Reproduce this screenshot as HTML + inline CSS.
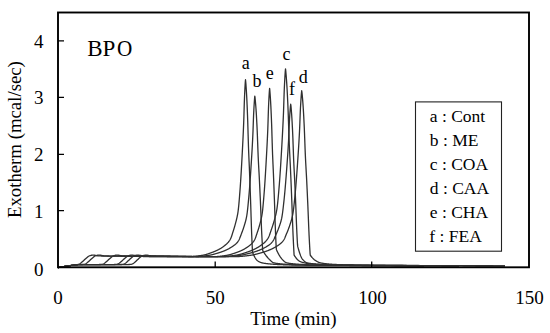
<!DOCTYPE html>
<html><head><meta charset="utf-8">
<style>
html,body{margin:0;padding:0;background:#fff;}
body{width:550px;height:333px;overflow:hidden;}
svg{display:block;}
text{font-family:"Liberation Serif",serif;fill:#000;}
</style></head>
<body>
<svg width="550" height="333" viewBox="0 0 550 333">
<rect x="0" y="0" width="550" height="333" fill="#fff"/>
<g fill="none" stroke="#303030" stroke-width="1.3" stroke-linejoin="round">
<path d="M58.00 267.60L58.60 267.49L59.20 267.38L59.80 267.27L60.40 267.16L61.00 267.06L61.60 266.95L62.20 266.84L62.80 266.74L63.40 266.64L64.00 266.53L64.60 266.43L65.20 266.33L65.80 266.24L66.40 266.14L67.00 266.05L67.60 265.96L68.20 265.87L68.80 265.78L69.40 265.70L70.00 265.61L70.60 265.53L71.20 265.45L71.80 265.37L72.40 265.30L73.00 265.22L73.60 265.15L74.20 265.07L74.80 265.00L75.40 264.92L76.00 264.84L76.60 264.75L77.20 264.64L77.80 264.51L78.40 264.33L79.00 264.08L79.60 263.83L80.20 263.48L80.80 263.06L81.40 262.59L82.00 262.07L82.60 261.53L83.20 260.97L83.80 260.41L84.40 259.85L85.00 259.28L85.60 258.72L86.20 258.17L86.80 257.64L87.40 257.14L88.00 256.69L88.60 256.30L89.20 255.98L89.80 255.73L90.40 255.53L91.00 255.38L91.60 255.26L92.20 255.18L92.80 255.14L93.40 255.14L94.00 255.18L94.60 255.25L95.20 255.35L95.80 255.45L96.40 255.56L97.00 255.66L97.60 255.75L98.20 255.82L98.80 255.88L99.40 255.92L100.00 255.95L100.60 255.97L101.20 255.99L101.80 256.00L102.40 256.01L103.00 256.02L103.60 256.03L104.20 256.04L104.80 256.04L105.40 256.05L106.00 256.06L106.60 256.06L107.20 256.07L107.80 256.08L108.40 256.08L109.00 256.09L109.60 256.10L110.20 256.10L110.80 256.11L111.40 256.12L112.00 256.12L112.60 256.13L113.20 256.14L113.80 256.14L114.40 256.15L115.00 256.16L115.60 256.16L116.20 256.17L116.80 256.18L117.40 256.19L118.00 256.19L118.60 256.20L119.20 256.21L119.80 256.21L120.40 256.22L121.00 256.23L121.60 256.23L122.20 256.24L122.80 256.25L123.40 256.25L124.00 256.26L124.60 256.27L125.20 256.27L125.80 256.28L126.40 256.29L127.00 256.29L127.60 256.30L128.20 256.31L128.80 256.31L129.40 256.32L130.00 256.33L130.60 256.33L131.20 256.34L131.80 256.35L132.40 256.36L133.00 256.36L133.60 256.37L134.20 256.38L134.80 256.38L135.40 256.39L136.00 256.40L136.60 256.40L137.20 256.41L137.80 256.42L138.40 256.42L139.00 256.43L139.60 256.44L140.20 256.44L140.80 256.45L141.40 256.46L142.00 256.46L142.60 256.47L143.20 256.48L143.80 256.48L144.40 256.49L145.00 256.50L145.60 256.50L146.20 256.51L146.80 256.52L147.40 256.53L148.00 256.53L148.60 256.54L149.20 256.55L149.80 256.55L150.40 256.56L151.00 256.57L151.60 256.57L152.20 256.58L152.80 256.59L153.40 256.59L154.00 256.60L154.60 256.60L155.20 256.60L155.80 256.60L156.40 256.60L157.00 256.60L157.60 256.60L158.20 256.60L158.80 256.60L159.40 256.60L160.00 256.60L160.60 256.60L161.20 256.60L161.80 256.60L162.40 256.60L163.00 256.60L163.60 256.60L164.20 256.60L164.80 256.60L165.40 256.60L166.00 256.60L166.60 256.60L167.20 256.60L167.80 256.60L168.40 256.60L169.00 256.60L169.60 256.60L170.20 256.60L170.80 256.60L171.40 256.60L172.00 256.60L172.60 256.60L173.20 256.60L173.80 256.60L174.40 256.60L175.00 256.60L175.50 256.60L175.70 256.60L175.90 256.60L176.10 256.60L176.30 256.60L176.50 256.60L176.70 256.60L176.90 256.60L177.10 256.60L177.30 256.60L177.50 256.60L177.70 256.60L177.90 256.60L178.10 256.60L178.30 256.60L178.50 256.60L178.70 256.60L178.90 256.60L179.10 256.60L179.30 256.60L179.50 256.60L179.70 256.60L179.90 256.60L180.10 256.60L180.30 256.60L180.50 256.60L180.70 256.60L180.90 256.60L181.10 256.60L181.30 256.60L181.50 256.60L181.70 256.60L181.90 256.60L182.10 256.60L182.30 256.60L182.50 256.60L182.70 256.60L182.90 256.60L183.10 256.60L183.30 256.60L183.50 256.60L183.70 256.60L183.90 256.60L184.10 256.60L184.30 256.60L184.50 256.60L184.70 256.60L184.90 256.60L185.10 256.60L185.30 256.60L185.50 256.60L185.70 256.60L185.90 256.60L186.10 256.60L186.30 256.60L186.50 256.60L186.70 256.60L186.90 256.60L187.10 256.60L187.30 256.60L187.50 256.60L187.70 256.60L187.90 256.60L188.10 256.60L188.30 256.60L188.50 256.60L188.70 256.60L188.90 256.60L189.10 256.60L189.30 256.60L189.50 256.60L189.70 256.60L189.90 256.60L190.10 256.60L190.30 256.60L190.50 256.60L190.70 256.60L190.90 256.60L191.10 256.59L191.30 256.59L191.50 256.59L191.70 256.58L191.90 256.57L192.10 256.57L192.30 256.56L192.50 256.55L192.70 256.54L192.90 256.53L193.10 256.51L193.30 256.50L193.50 256.49L193.70 256.47L193.90 256.46L194.10 256.44L194.30 256.42L194.50 256.40L194.70 256.39L194.90 256.37L195.10 256.35L195.30 256.33L195.50 256.30L195.70 256.28L195.90 256.26L196.10 256.24L196.30 256.21L196.50 256.19L196.70 256.16L196.90 256.14L197.10 256.11L197.30 256.08L197.50 256.06L197.70 256.03L197.90 256.00L198.10 255.97L198.30 255.94L198.50 255.91L198.70 255.89L198.90 255.86L199.10 255.82L199.30 255.79L199.50 255.76L199.70 255.73L199.90 255.70L200.10 255.67L200.30 255.64L200.50 255.60L200.70 255.57L200.90 255.54L201.10 255.50L201.30 255.47L201.50 255.44L201.70 255.40L201.90 255.37L202.10 255.34L202.30 255.30L202.50 255.27L202.70 255.24L202.90 255.20L203.10 255.17L203.30 255.13L203.50 255.09L203.70 255.06L203.90 255.01L204.10 254.97L204.30 254.93L204.50 254.88L204.70 254.83L204.90 254.78L205.10 254.73L205.30 254.68L205.50 254.62L205.70 254.57L205.90 254.51L206.10 254.46L206.30 254.40L206.50 254.34L206.70 254.28L206.90 254.21L207.10 254.15L207.30 254.09L207.50 254.02L207.70 253.96L207.90 253.89L208.10 253.82L208.30 253.76L208.50 253.69L208.70 253.62L208.90 253.55L209.10 253.48L209.30 253.41L209.50 253.34L209.70 253.27L209.90 253.20L210.10 253.12L210.30 253.05L210.50 252.98L210.70 252.91L210.90 252.84L211.10 252.76L211.30 252.69L211.50 252.62L211.70 252.55L211.90 252.48L212.10 252.40L212.30 252.33L212.50 252.26L212.70 252.18L212.90 252.10L213.10 252.03L213.30 251.95L213.50 251.87L213.70 251.79L213.90 251.72L214.10 251.63L214.30 251.55L214.50 251.47L214.70 251.39L214.90 251.31L215.10 251.22L215.30 251.13L215.50 251.05L215.70 250.96L215.90 250.87L216.10 250.78L216.30 250.69L216.50 250.60L216.70 250.51L216.90 250.41L217.10 250.32L217.30 250.22L217.50 250.12L217.70 250.02L217.90 249.92L218.10 249.82L218.30 249.72L218.50 249.62L218.70 249.51L218.90 249.40L219.10 249.29L219.30 249.18L219.50 249.07L219.70 248.96L219.90 248.84L220.10 248.73L220.30 248.61L220.50 248.49L220.70 248.37L220.90 248.24L221.10 248.12L221.30 247.99L221.50 247.86L221.70 247.73L221.90 247.60L222.10 247.46L222.30 247.33L222.50 247.19L222.70 247.05L222.90 246.90L223.10 246.76L223.30 246.62L223.50 246.47L223.70 246.32L223.90 246.17L224.10 246.01L224.30 245.86L224.50 245.70L224.70 245.54L224.90 245.38L225.10 245.22L225.30 245.05L225.50 244.89L225.70 244.72L225.90 244.55L226.10 244.38L226.30 244.20L226.50 244.03L226.70 243.85L226.90 243.66L227.10 243.48L227.30 243.28L227.50 243.08L227.70 242.88L227.90 242.67L228.10 242.44L228.30 242.22L228.50 241.98L228.70 241.73L228.90 241.47L229.10 241.20L229.30 240.92L229.50 240.62L229.70 240.31L229.90 239.98L230.10 239.64L230.30 239.28L230.50 238.90L230.70 238.49L230.90 238.07L231.10 237.62L231.30 237.12L231.50 236.56L231.70 235.96L231.90 235.33L232.10 234.69L232.30 234.04L232.50 233.39L232.70 232.76L232.90 232.14L233.10 231.51L233.30 230.89L233.50 230.26L233.70 229.62L233.90 228.99L234.10 228.34L234.30 227.68L234.50 227.02L234.70 226.34L234.90 225.64L235.10 224.93L235.30 224.20L235.50 223.45L235.70 222.68L235.90 221.89L236.10 221.11L236.30 220.32L236.50 219.52L236.70 218.70L236.90 217.84L237.10 216.93L237.30 215.96L237.50 214.93L237.70 213.80L237.90 212.59L238.10 211.25L238.30 209.70L238.50 207.92L238.70 205.96L238.90 203.84L239.10 201.57L239.30 199.19L239.50 196.71L239.70 194.17L239.90 191.58L240.10 188.95L240.30 186.19L240.50 183.28L240.70 180.23L240.90 177.05L241.10 173.77L241.30 170.37L241.50 166.88L241.70 163.31L241.90 159.67L242.10 155.96L242.30 152.20L242.50 148.40L242.70 144.53L242.90 140.54L243.10 136.38L243.30 132.00L243.50 127.35L243.70 122.36L243.90 116.42L244.10 109.59L244.30 102.92L244.50 97.43L244.70 92.99L244.90 88.90L245.10 85.24L245.30 82.15L245.50 79.74L245.70 81.47L245.90 83.92L246.10 86.68L246.30 89.72L246.50 92.99L246.70 96.57L246.90 100.61L247.10 105.06L247.30 109.85L247.50 114.95L247.70 120.64L247.90 127.24L248.10 134.22L248.30 141.09L248.50 147.33L248.70 152.66L248.90 157.48L249.10 162.03L249.30 166.55L249.50 171.31L249.70 176.42L249.90 181.69L250.10 187.11L250.30 192.66L250.50 198.34L250.70 204.23L250.90 210.53L251.10 217.00L251.30 223.32L251.50 229.20L251.70 234.45L251.90 239.37L252.10 244.00L252.30 248.32L252.50 252.29L252.70 252.76L252.90 253.21L253.10 253.67L253.30 254.11L253.50 254.55L253.70 254.98L253.90 255.40L254.10 255.81L254.30 256.21L254.50 256.60L254.70 256.97L254.90 257.34L255.10 257.69L255.30 258.03L255.50 258.35L255.70 258.66L255.90 258.95L256.10 259.23L256.30 259.49L256.50 259.73L256.70 259.96L256.90 260.16L257.10 260.35L257.30 260.51L257.50 260.66L257.70 260.81L257.90 260.95L258.10 261.09L258.30 261.22L258.50 261.35L258.70 261.47L258.90 261.59L259.10 261.70L259.30 261.81L259.50 261.91L259.70 262.01L259.90 262.11L260.10 262.20L260.30 262.28L260.50 262.36L260.70 262.44L260.90 262.51L261.10 262.58L261.30 262.64L261.50 262.70L261.70 262.75L261.90 262.81L262.10 262.85L262.30 262.90L262.50 262.95L262.70 262.99L262.90 263.03L263.10 263.07L263.30 263.11L263.50 263.15L263.70 263.19L263.90 263.22L264.10 263.26L264.30 263.29L264.50 263.32L264.70 263.35L264.90 263.38L265.10 263.41L265.30 263.44L265.50 263.47L265.70 263.50L265.90 263.52L266.10 263.55L266.30 263.57L266.50 263.60L266.70 263.62L266.90 263.64L267.10 263.67L267.30 263.69L267.50 263.71L267.70 263.73L267.90 263.75L268.10 263.77L268.30 263.80L268.50 263.82L268.70 263.84L268.90 263.86L269.10 263.88L269.30 263.90L269.50 263.92L269.70 263.94L269.90 263.95L270.10 263.97L270.30 263.99L270.50 264.01L270.70 264.03L270.90 264.05L271.10 264.06L271.30 264.08L271.50 264.10L271.70 264.11L271.90 264.13L272.10 264.15L272.30 264.16L272.50 264.18L272.70 264.19L272.90 264.21L273.10 264.22L273.30 264.24L273.50 264.25L273.70 264.27L273.90 264.28L274.10 264.29L274.30 264.31L274.50 264.32L274.70 264.33L274.90 264.35L275.10 264.36L275.30 264.37L275.50 264.38L275.70 264.40L275.90 264.41L276.10 264.42L276.30 264.43L276.50 264.44L276.70 264.45L276.90 264.46L277.10 264.47L277.30 264.48L277.50 264.49L277.70 264.50L277.90 264.51L278.10 264.52L278.30 264.53L278.50 264.54L278.70 264.55L278.90 264.56L279.10 264.57L279.30 264.58L279.50 264.58L279.70 264.59L279.90 264.60L280.10 264.61L280.30 264.62L280.50 264.63L280.70 264.64L280.90 264.64L281.10 264.65L281.30 264.66L281.50 264.67L281.70 264.68L281.90 264.68L282.10 264.69L282.30 264.70L282.50 264.71L282.70 264.72L282.90 264.72L283.10 264.73L283.30 264.74L283.50 264.75L283.70 264.75L283.90 264.76L284.10 264.77L284.30 264.77L284.50 264.78L284.70 264.79L284.90 264.79L285.10 264.80L285.30 264.81L285.50 264.81L285.70 264.82L285.90 264.83L286.10 264.83L286.30 264.84L286.50 264.85L286.70 264.85L286.90 264.86L287.10 264.86L287.30 264.87L287.50 264.87L287.70 264.88L287.90 264.89L288.10 264.89L288.30 264.90L288.50 264.90L288.70 264.91L288.90 264.91L289.10 264.92L289.30 264.92L289.50 264.93L289.70 264.93L289.90 264.94L290.10 264.94L290.30 264.95L290.50 264.95L290.70 264.96L290.90 264.96L291.10 264.97L291.30 264.97L291.50 264.98L291.70 264.98L291.90 264.98L292.10 264.99L292.30 264.99L292.50 265.00L294.50 265.04L296.50 265.07L298.50 265.11L300.50 265.14L302.50 265.18L304.50 265.21L306.50 265.23L308.50 265.26L310.50 265.28L312.50 265.30L314.50 265.32L316.50 265.33L318.50 265.34L320.50 265.35L322.50 265.36L324.50 265.37L326.50 265.38L328.50 265.38L330.50 265.39L332.50 265.40L334.50 265.41L336.50 265.42L338.50 265.43L340.50 265.44L342.50 265.45L344.50 265.46L346.50 265.46L348.50 265.47L350.50 265.48L352.50 265.49L354.50 265.50L356.50 265.51L358.50 265.51L360.50 265.52L362.50 265.53L364.50 265.54L366.50 265.55L368.50 265.55L370.50 265.56L372.50 265.57L374.50 265.58L376.50 265.58L378.50 265.59L380.50 265.60L382.50 265.61L384.50 265.61L386.50 265.62L388.50 265.63L390.50 265.64L392.50 265.64L394.50 265.65L396.50 265.66L398.50 265.66L400.50 265.67L402.50 265.68L404.50 265.68L406.50 265.69L408.50 265.70L410.50 265.70L412.50 265.71L414.50 265.72L416.50 265.72L418.50 265.73L420.50 265.73L422.50 265.74L424.00 265.75"/>
<path d="M58.00 267.60L58.60 267.49L59.20 267.38L59.80 267.27L60.40 267.16L61.00 267.06L61.60 266.95L62.20 266.84L62.80 266.74L63.40 266.64L64.00 266.53L64.60 266.43L65.20 266.33L65.80 266.24L66.40 266.14L67.00 266.05L67.60 265.96L68.20 265.87L68.80 265.78L69.40 265.70L70.00 265.61L70.60 265.53L71.20 265.45L71.80 265.37L72.40 265.30L73.00 265.22L73.60 265.15L74.20 265.08L74.80 265.01L75.40 264.94L76.00 264.87L76.60 264.80L77.20 264.74L77.80 264.67L78.40 264.60L79.00 264.54L79.60 264.54L80.20 264.53L80.80 264.53L81.40 264.52L82.00 264.51L82.60 264.49L83.20 264.45L83.80 264.38L84.40 264.26L85.00 264.08L85.60 263.83L86.20 263.48L86.80 263.06L87.40 262.59L88.00 262.07L88.60 261.53L89.20 260.97L89.80 260.41L90.40 259.85L91.00 259.28L91.60 258.72L92.20 258.17L92.80 257.64L93.40 257.14L94.00 256.69L94.60 256.30L95.20 255.98L95.80 255.73L96.40 255.53L97.00 255.38L97.60 255.26L98.20 255.18L98.80 255.14L99.40 255.14L100.00 255.18L100.60 255.25L101.20 255.35L101.80 255.45L102.40 255.56L103.00 255.66L103.60 255.75L104.20 255.82L104.80 255.88L105.40 255.92L106.00 255.95L106.60 255.97L107.20 255.99L107.80 256.00L108.40 256.01L109.00 256.02L109.60 256.03L110.20 256.04L110.80 256.04L111.40 256.05L112.00 256.06L112.60 256.06L113.20 256.07L113.80 256.08L114.40 256.08L115.00 256.09L115.60 256.10L116.20 256.10L116.80 256.11L117.40 256.12L118.00 256.12L118.60 256.13L119.20 256.14L119.80 256.14L120.40 256.15L121.00 256.16L121.60 256.16L122.20 256.17L122.80 256.18L123.40 256.19L124.00 256.19L124.60 256.20L125.20 256.21L125.80 256.21L126.40 256.22L127.00 256.23L127.60 256.23L128.20 256.24L128.80 256.25L129.40 256.25L130.00 256.26L130.60 256.27L131.20 256.27L131.80 256.28L132.40 256.29L133.00 256.29L133.60 256.30L134.20 256.31L134.80 256.31L135.40 256.32L136.00 256.33L136.60 256.33L137.20 256.34L137.80 256.35L138.40 256.36L139.00 256.36L139.60 256.37L140.20 256.38L140.80 256.38L141.40 256.39L142.00 256.40L142.60 256.40L143.20 256.41L143.80 256.42L144.40 256.42L145.00 256.43L145.60 256.44L146.20 256.44L146.80 256.45L147.40 256.46L148.00 256.46L148.60 256.47L149.20 256.48L149.80 256.48L150.40 256.49L151.00 256.50L151.60 256.50L152.20 256.51L152.80 256.52L153.40 256.53L154.00 256.53L154.60 256.54L155.20 256.55L155.80 256.55L156.40 256.56L157.00 256.57L157.60 256.57L158.20 256.58L158.80 256.59L159.40 256.59L160.00 256.60L160.60 256.60L161.20 256.60L161.80 256.60L162.40 256.60L163.00 256.60L163.60 256.60L164.20 256.60L164.80 256.60L165.40 256.60L166.00 256.60L166.60 256.60L167.20 256.60L167.80 256.60L168.40 256.60L169.00 256.60L169.60 256.60L170.20 256.60L170.80 256.60L171.40 256.60L172.00 256.60L172.60 256.60L173.20 256.60L173.80 256.60L174.40 256.60L175.00 256.60L175.60 256.60L176.20 256.60L176.80 256.60L177.40 256.60L178.00 256.60L178.60 256.60L179.20 256.60L179.80 256.60L180.40 256.60L181.00 256.60L181.60 256.60L182.20 256.60L182.80 256.60L183.40 256.60L184.00 256.60L184.60 256.60L184.80 256.60L185.00 256.60L185.20 256.60L185.40 256.60L185.60 256.60L185.80 256.60L186.00 256.60L186.20 256.60L186.40 256.60L186.60 256.60L186.80 256.60L187.00 256.60L187.20 256.60L187.40 256.60L187.60 256.60L187.80 256.60L188.00 256.60L188.20 256.60L188.40 256.60L188.60 256.60L188.80 256.60L189.00 256.60L189.20 256.60L189.40 256.60L189.60 256.60L189.80 256.60L190.00 256.60L190.20 256.60L190.40 256.60L190.60 256.60L190.80 256.60L191.00 256.60L191.20 256.60L191.40 256.60L191.60 256.60L191.80 256.60L192.00 256.60L192.20 256.60L192.40 256.60L192.60 256.60L192.80 256.60L193.00 256.60L193.20 256.60L193.40 256.60L193.60 256.60L193.80 256.60L194.00 256.60L194.20 256.60L194.40 256.60L194.60 256.60L194.80 256.60L195.00 256.60L195.20 256.60L195.40 256.60L195.60 256.60L195.80 256.60L196.00 256.60L196.20 256.59L196.40 256.59L196.60 256.58L196.80 256.58L197.00 256.57L197.20 256.57L197.40 256.56L197.60 256.55L197.80 256.54L198.00 256.53L198.20 256.52L198.40 256.51L198.60 256.50L198.80 256.49L199.00 256.47L199.20 256.46L199.40 256.45L199.60 256.43L199.80 256.42L200.00 256.40L200.20 256.38L200.40 256.37L200.60 256.35L200.80 256.33L201.00 256.31L201.20 256.29L201.40 256.27L201.60 256.25L201.80 256.23L202.00 256.21L202.20 256.19L202.40 256.17L202.60 256.15L202.80 256.13L203.00 256.10L203.20 256.08L203.40 256.06L203.60 256.03L203.80 256.01L204.00 255.98L204.20 255.96L204.40 255.93L204.60 255.91L204.80 255.88L205.00 255.86L205.20 255.83L205.40 255.80L205.60 255.78L205.80 255.75L206.00 255.72L206.20 255.70L206.40 255.67L206.60 255.64L206.80 255.61L207.00 255.59L207.20 255.56L207.40 255.53L207.60 255.50L207.80 255.47L208.00 255.44L208.20 255.42L208.40 255.39L208.60 255.36L208.80 255.33L209.00 255.30L209.20 255.27L209.40 255.24L209.60 255.21L209.80 255.17L210.00 255.14L210.20 255.10L210.40 255.06L210.60 255.02L210.80 254.98L211.00 254.94L211.20 254.90L211.40 254.85L211.60 254.81L211.80 254.76L212.00 254.71L212.20 254.67L212.40 254.62L212.60 254.57L212.80 254.52L213.00 254.46L213.20 254.41L213.40 254.36L213.60 254.31L213.80 254.25L214.00 254.20L214.20 254.14L214.40 254.08L214.60 254.03L214.80 253.97L215.00 253.91L215.20 253.85L215.40 253.79L215.60 253.74L215.80 253.68L216.00 253.62L216.20 253.56L216.40 253.50L216.60 253.44L216.80 253.38L217.00 253.32L217.20 253.26L217.40 253.19L217.60 253.13L217.80 253.07L218.00 253.01L218.20 252.95L218.40 252.89L218.60 252.83L218.80 252.77L219.00 252.71L219.20 252.65L219.40 252.58L219.60 252.52L219.80 252.45L220.00 252.39L220.20 252.32L220.40 252.26L220.60 252.19L220.80 252.13L221.00 252.06L221.20 251.99L221.40 251.92L221.60 251.85L221.80 251.78L222.00 251.71L222.20 251.64L222.40 251.56L222.60 251.49L222.80 251.41L223.00 251.34L223.20 251.26L223.40 251.19L223.60 251.11L223.80 251.03L224.00 250.95L224.20 250.87L224.40 250.79L224.60 250.71L224.80 250.62L225.00 250.54L225.20 250.45L225.40 250.37L225.60 250.28L225.80 250.19L226.00 250.10L226.20 250.01L226.40 249.92L226.60 249.83L226.80 249.73L227.00 249.64L227.20 249.54L227.40 249.44L227.60 249.34L227.80 249.24L228.00 249.14L228.20 249.03L228.40 248.93L228.60 248.82L228.80 248.71L229.00 248.61L229.20 248.49L229.40 248.38L229.60 248.27L229.80 248.15L230.00 248.04L230.20 247.92L230.40 247.80L230.60 247.68L230.80 247.56L231.00 247.43L231.20 247.31L231.40 247.18L231.60 247.05L231.80 246.92L232.00 246.79L232.20 246.66L232.40 246.52L232.60 246.39L232.80 246.25L233.00 246.11L233.20 245.97L233.40 245.83L233.60 245.69L233.80 245.54L234.00 245.40L234.20 245.25L234.40 245.10L234.60 244.95L234.80 244.80L235.00 244.64L235.20 244.47L235.40 244.30L235.60 244.13L235.80 243.95L236.00 243.76L236.20 243.57L236.40 243.37L236.60 243.17L236.80 242.95L237.00 242.73L237.20 242.50L237.40 242.26L237.60 242.00L237.80 241.74L238.00 241.46L238.20 241.16L238.40 240.86L238.60 240.54L238.80 240.20L239.00 239.85L239.20 239.48L239.40 239.06L239.60 238.61L239.80 238.12L240.00 237.60L240.20 237.07L240.40 236.53L240.60 235.98L240.80 235.44L241.00 234.91L241.20 234.38L241.40 233.86L241.60 233.33L241.80 232.81L242.00 232.28L242.20 231.74L242.40 231.20L242.60 230.65L242.80 230.10L243.00 229.53L243.20 228.96L243.40 228.37L243.60 227.77L243.80 227.16L244.00 226.53L244.20 225.88L244.40 225.22L244.60 224.56L244.80 223.90L245.00 223.23L245.20 222.55L245.40 221.84L245.60 221.10L245.80 220.32L246.00 219.49L246.20 218.61L246.40 217.65L246.60 216.63L246.80 215.51L247.00 214.21L247.20 212.75L247.40 211.14L247.60 209.39L247.80 207.53L248.00 205.57L248.20 203.52L248.40 201.42L248.60 199.27L248.80 197.08L249.00 194.86L249.20 192.53L249.40 190.08L249.60 187.52L249.80 184.86L250.00 182.12L250.20 179.29L250.40 176.39L250.60 173.41L250.80 170.38L251.00 167.29L251.20 164.16L251.40 160.99L251.60 157.79L251.80 154.53L252.00 151.17L252.20 147.67L252.40 144.01L252.60 140.14L252.80 136.01L253.00 131.35L253.20 125.78L253.40 120.01L253.60 114.77L253.80 110.67L254.00 107.03L254.20 103.67L254.40 100.68L254.60 98.15L254.80 96.14L255.00 97.43L255.20 99.32L255.40 101.44L255.60 103.77L255.80 106.28L256.00 108.93L256.20 111.88L256.40 115.13L256.60 118.67L256.80 122.45L257.00 126.45L257.20 130.74L257.40 135.72L257.60 141.15L257.80 146.71L258.00 152.08L258.20 156.94L258.40 161.16L258.60 165.01L258.80 168.65L259.00 172.23L259.20 175.89L259.40 179.80L259.60 183.90L259.80 188.11L260.00 192.42L260.20 196.82L260.40 201.31L260.60 205.91L260.80 210.81L261.00 215.91L261.20 221.03L261.40 225.97L261.60 230.54L261.80 234.67L262.00 238.59L262.20 242.30L262.40 245.80L262.60 249.05L262.80 250.75L263.00 251.08L263.20 251.40L263.40 251.72L263.60 252.03L263.80 252.34L264.00 252.65L264.20 252.95L264.40 253.25L264.60 253.55L264.80 253.84L265.00 254.12L265.20 254.41L265.40 254.69L265.60 254.96L265.80 255.24L266.00 255.50L266.20 255.77L266.40 256.03L266.60 256.28L266.80 256.53L267.00 256.78L267.20 257.02L267.40 257.26L267.60 257.50L267.80 257.73L268.00 257.95L268.20 258.17L268.40 258.39L268.60 258.60L268.80 258.81L269.00 259.01L269.20 259.21L269.40 259.41L269.60 259.60L269.80 259.80L270.00 260.00L270.20 260.20L270.40 260.40L270.60 260.60L270.80 260.79L271.00 260.98L271.20 261.16L271.40 261.34L271.60 261.52L271.80 261.68L272.00 261.84L272.20 261.99L272.40 262.14L272.60 262.27L272.80 262.39L273.00 262.50L273.20 262.60L273.40 262.68L273.60 262.75L273.80 262.81L274.00 262.86L274.20 262.91L274.40 262.96L274.60 263.01L274.80 263.05L275.00 263.09L275.20 263.13L275.40 263.17L275.60 263.21L275.80 263.25L276.00 263.28L276.20 263.31L276.40 263.34L276.60 263.37L276.80 263.40L277.00 263.43L277.20 263.45L277.40 263.48L277.60 263.50L277.80 263.53L278.00 263.55L278.20 263.58L278.40 263.60L278.60 263.62L278.80 263.64L279.00 263.67L279.20 263.69L279.40 263.71L279.60 263.73L279.80 263.75L280.00 263.77L280.20 263.80L280.40 263.82L280.60 263.84L280.80 263.86L281.00 263.88L281.20 263.90L281.40 263.92L281.60 263.94L281.80 263.95L282.00 263.97L282.20 263.99L282.40 264.01L282.60 264.03L282.80 264.05L283.00 264.06L283.20 264.08L283.40 264.10L283.60 264.11L283.80 264.13L284.00 264.15L284.20 264.16L284.40 264.18L284.60 264.19L284.80 264.21L285.00 264.22L285.20 264.24L285.40 264.25L285.60 264.27L285.80 264.28L286.00 264.29L286.20 264.31L286.40 264.32L286.60 264.33L286.80 264.35L287.00 264.36L287.20 264.37L287.40 264.38L287.60 264.40L287.80 264.41L288.00 264.42L288.20 264.43L288.40 264.44L288.60 264.45L288.80 264.46L289.00 264.47L289.20 264.48L289.40 264.49L289.60 264.50L289.80 264.51L290.00 264.52L290.20 264.53L290.40 264.54L290.60 264.55L290.80 264.56L291.00 264.57L291.20 264.58L291.40 264.58L291.60 264.59L291.80 264.60L292.00 264.61L292.20 264.62L292.40 264.63L292.60 264.64L292.80 264.64L293.00 264.65L293.20 264.66L293.40 264.67L293.60 264.68L293.80 264.68L294.00 264.69L294.20 264.70L294.40 264.71L294.60 264.72L294.80 264.72L295.00 264.73L295.20 264.74L295.40 264.75L295.60 264.75L295.80 264.76L296.00 264.77L296.20 264.77L296.40 264.78L296.60 264.79L296.80 264.79L297.00 264.80L297.20 264.81L297.40 264.81L297.60 264.82L297.80 264.83L298.00 264.83L298.20 264.84L298.40 264.85L298.60 264.85L298.80 264.86L299.00 264.86L299.20 264.87L299.40 264.87L299.60 264.88L299.80 264.89L300.00 264.89L300.20 264.90L300.40 264.90L300.60 264.91L300.80 264.91L301.00 264.92L301.20 264.92L301.40 264.93L301.60 264.93L301.80 264.94L302.00 264.94L302.20 264.95L302.40 264.95L302.60 264.96L302.70 264.96L304.70 265.00L306.70 265.04L308.70 265.08L310.70 265.11L312.70 265.15L314.70 265.18L316.70 265.21L318.70 265.24L320.70 265.26L322.70 265.28L324.70 265.30L326.70 265.32L328.70 265.33L330.70 265.34L332.70 265.35L334.70 265.36L336.70 265.37L338.70 265.38L340.70 265.39L342.70 265.40L344.70 265.40L346.70 265.41L348.70 265.42L350.70 265.43L352.70 265.44L354.70 265.45L356.70 265.46L358.70 265.47L360.70 265.47L362.70 265.48L364.70 265.49L366.70 265.50L368.70 265.51L370.70 265.52L372.70 265.52L374.70 265.53L376.70 265.54L378.70 265.55L380.70 265.56L382.70 265.56L384.70 265.57L386.70 265.58L388.70 265.59L390.70 265.59L392.70 265.60L394.70 265.61L396.70 265.62L398.70 265.62L400.70 265.63L402.70 265.64L404.70 265.64L406.70 265.65L408.70 265.66L410.70 265.67L412.70 265.67L414.70 265.68L416.70 265.69L418.70 265.69L420.70 265.70L422.70 265.71L424.00 265.71"/>
<path d="M58.00 267.60L58.60 267.49L59.20 267.38L59.80 267.27L60.40 267.16L61.00 267.06L61.60 266.95L62.20 266.84L62.80 266.74L63.40 266.64L64.00 266.53L64.60 266.43L65.20 266.33L65.80 266.24L66.40 266.14L67.00 266.05L67.60 265.96L68.20 265.87L68.80 265.78L69.40 265.70L70.00 265.61L70.60 265.53L71.20 265.45L71.80 265.37L72.40 265.30L73.00 265.22L73.60 265.15L74.20 265.08L74.80 265.01L75.40 264.94L76.00 264.87L76.60 264.80L77.20 264.74L77.80 264.67L78.40 264.60L79.00 264.54L79.60 264.54L80.20 264.54L80.80 264.54L81.40 264.54L82.00 264.54L82.60 264.54L83.20 264.54L83.80 264.54L84.40 264.54L85.00 264.54L85.60 264.54L86.20 264.54L86.80 264.54L87.40 264.54L88.00 264.54L88.60 264.54L89.20 264.54L89.80 264.54L90.40 264.54L91.00 264.54L91.60 264.54L92.20 264.54L92.80 264.54L93.40 264.54L94.00 264.54L94.60 264.54L95.20 264.54L95.80 264.54L96.40 264.54L97.00 264.54L97.60 264.54L98.20 264.53L98.80 264.53L99.40 264.52L100.00 264.51L100.60 264.49L101.20 264.45L101.80 264.38L102.40 264.26L103.00 264.08L103.60 263.83L104.20 263.48L104.80 263.06L105.40 262.59L106.00 262.07L106.60 261.53L107.20 260.97L107.80 260.41L108.40 259.85L109.00 259.28L109.60 258.72L110.20 258.17L110.80 257.64L111.40 257.14L112.00 256.69L112.60 256.30L113.20 255.98L113.80 255.73L114.40 255.53L115.00 255.38L115.60 255.26L116.20 255.18L116.80 255.14L117.40 255.14L118.00 255.18L118.60 255.25L119.20 255.35L119.80 255.45L120.40 255.56L121.00 255.66L121.60 255.75L122.20 255.82L122.80 255.88L123.40 255.92L124.00 255.95L124.60 255.97L125.20 255.99L125.80 256.00L126.40 256.01L127.00 256.02L127.60 256.03L128.20 256.04L128.80 256.04L129.40 256.05L130.00 256.06L130.60 256.06L131.20 256.07L131.80 256.08L132.40 256.08L133.00 256.09L133.60 256.10L134.20 256.10L134.80 256.11L135.40 256.12L136.00 256.12L136.60 256.13L137.20 256.14L137.80 256.14L138.40 256.15L139.00 256.16L139.60 256.16L140.20 256.17L140.80 256.18L141.40 256.19L142.00 256.19L142.60 256.20L143.20 256.21L143.80 256.21L144.40 256.22L145.00 256.23L145.60 256.23L146.20 256.24L146.80 256.25L147.40 256.25L148.00 256.26L148.60 256.27L149.20 256.27L149.80 256.28L150.40 256.29L151.00 256.29L151.60 256.30L152.20 256.31L152.80 256.31L153.40 256.32L154.00 256.33L154.60 256.33L155.20 256.34L155.80 256.35L156.40 256.36L157.00 256.36L157.60 256.37L158.20 256.38L158.80 256.38L159.40 256.39L160.00 256.40L160.60 256.40L161.20 256.41L161.80 256.42L162.40 256.42L163.00 256.43L163.60 256.44L164.20 256.44L164.80 256.45L165.40 256.46L166.00 256.46L166.60 256.47L167.20 256.48L167.80 256.48L168.40 256.49L169.00 256.50L169.60 256.50L170.20 256.51L170.80 256.52L171.40 256.53L172.00 256.53L172.60 256.54L173.20 256.55L173.80 256.55L174.40 256.56L175.00 256.57L175.60 256.57L176.20 256.58L176.80 256.59L177.40 256.59L178.00 256.60L178.60 256.60L179.20 256.60L179.80 256.60L180.40 256.60L181.00 256.60L181.60 256.60L182.20 256.60L182.80 256.60L183.40 256.60L184.00 256.60L184.60 256.60L185.20 256.60L185.80 256.60L186.40 256.60L187.00 256.60L187.60 256.60L188.20 256.60L188.80 256.60L189.40 256.60L190.00 256.60L190.60 256.60L191.20 256.60L191.80 256.60L192.40 256.60L193.00 256.60L193.60 256.60L194.20 256.60L194.80 256.60L195.40 256.60L196.00 256.60L196.60 256.60L197.20 256.60L197.80 256.60L198.40 256.60L199.00 256.60L199.60 256.60L199.60 256.60L199.80 256.60L200.00 256.60L200.20 256.60L200.40 256.60L200.60 256.60L200.80 256.60L201.00 256.60L201.20 256.60L201.40 256.60L201.60 256.60L201.80 256.60L202.00 256.60L202.20 256.60L202.40 256.60L202.60 256.60L202.80 256.60L203.00 256.60L203.20 256.60L203.40 256.60L203.60 256.60L203.80 256.60L204.00 256.60L204.20 256.60L204.40 256.60L204.60 256.60L204.80 256.60L205.00 256.60L205.20 256.60L205.40 256.60L205.60 256.60L205.80 256.60L206.00 256.60L206.20 256.60L206.40 256.60L206.60 256.60L206.80 256.60L207.00 256.60L207.20 256.60L207.40 256.60L207.60 256.60L207.80 256.60L208.00 256.60L208.20 256.60L208.40 256.60L208.60 256.60L208.80 256.60L209.00 256.60L209.20 256.60L209.40 256.60L209.60 256.60L209.80 256.60L210.00 256.60L210.20 256.60L210.40 256.60L210.60 256.60L210.80 256.60L211.00 256.60L211.20 256.60L211.40 256.60L211.60 256.60L211.80 256.60L212.00 256.60L212.20 256.60L212.40 256.60L212.60 256.60L212.80 256.60L213.00 256.60L213.20 256.60L213.40 256.60L213.60 256.60L213.80 256.60L214.00 256.60L214.20 256.60L214.40 256.60L214.60 256.60L214.80 256.60L215.00 256.60L215.20 256.60L215.40 256.59L215.60 256.59L215.80 256.58L216.00 256.57L216.20 256.57L216.40 256.56L216.60 256.55L216.80 256.54L217.00 256.53L217.20 256.52L217.40 256.50L217.60 256.49L217.80 256.48L218.00 256.46L218.20 256.45L218.40 256.43L218.60 256.41L218.80 256.40L219.00 256.38L219.20 256.36L219.40 256.34L219.60 256.32L219.80 256.30L220.00 256.28L220.20 256.25L220.40 256.23L220.60 256.21L220.80 256.18L221.00 256.16L221.20 256.13L221.40 256.11L221.60 256.08L221.80 256.06L222.00 256.03L222.20 256.00L222.40 255.98L222.60 255.95L222.80 255.92L223.00 255.89L223.20 255.86L223.40 255.83L223.60 255.80L223.80 255.77L224.00 255.74L224.20 255.71L224.40 255.68L224.60 255.65L224.80 255.62L225.00 255.59L225.20 255.56L225.40 255.53L225.60 255.50L225.80 255.46L226.00 255.43L226.20 255.40L226.40 255.37L226.60 255.34L226.80 255.30L227.00 255.27L227.20 255.24L227.40 255.20L227.60 255.17L227.80 255.13L228.00 255.09L228.20 255.05L228.40 255.01L228.60 254.96L228.80 254.92L229.00 254.87L229.20 254.82L229.40 254.77L229.60 254.72L229.80 254.67L230.00 254.62L230.20 254.56L230.40 254.51L230.60 254.45L230.80 254.39L231.00 254.33L231.20 254.27L231.40 254.21L231.60 254.15L231.80 254.09L232.00 254.02L232.20 253.96L232.40 253.90L232.60 253.83L232.80 253.77L233.00 253.70L233.20 253.63L233.40 253.57L233.60 253.50L233.80 253.43L234.00 253.36L234.20 253.29L234.40 253.23L234.60 253.16L234.80 253.09L235.00 253.02L235.20 252.95L235.40 252.88L235.60 252.82L235.80 252.75L236.00 252.68L236.20 252.61L236.40 252.54L236.60 252.47L236.80 252.40L237.00 252.33L237.20 252.25L237.40 252.18L237.60 252.11L237.80 252.03L238.00 251.96L238.20 251.88L238.40 251.80L238.60 251.72L238.80 251.65L239.00 251.57L239.20 251.48L239.40 251.40L239.60 251.32L239.80 251.24L240.00 251.15L240.20 251.07L240.40 250.98L240.60 250.89L240.80 250.81L241.00 250.72L241.20 250.63L241.40 250.53L241.60 250.44L241.80 250.35L242.00 250.25L242.20 250.16L242.40 250.06L242.60 249.96L242.80 249.86L243.00 249.76L243.20 249.65L243.40 249.55L243.60 249.44L243.80 249.34L244.00 249.23L244.20 249.12L244.40 249.00L244.60 248.89L244.80 248.77L245.00 248.65L245.20 248.53L245.40 248.41L245.60 248.29L245.80 248.17L246.00 248.04L246.20 247.91L246.40 247.78L246.60 247.65L246.80 247.52L247.00 247.38L247.20 247.24L247.40 247.11L247.60 246.97L247.80 246.82L248.00 246.68L248.20 246.53L248.40 246.39L248.60 246.24L248.80 246.09L249.00 245.93L249.20 245.78L249.40 245.62L249.60 245.46L249.80 245.30L250.00 245.14L250.20 244.98L250.40 244.81L250.60 244.64L250.80 244.47L251.00 244.30L251.20 244.12L251.40 243.94L251.60 243.75L251.80 243.55L252.00 243.35L252.20 243.14L252.40 242.92L252.60 242.70L252.80 242.46L253.00 242.21L253.20 241.96L253.40 241.69L253.60 241.41L253.80 241.11L254.00 240.80L254.20 240.47L254.40 240.13L254.60 239.77L254.80 239.39L255.00 238.98L255.20 238.56L255.40 238.07L255.60 237.54L255.80 236.98L256.00 236.38L256.20 235.77L256.40 235.15L256.60 234.54L256.80 233.94L257.00 233.34L257.20 232.75L257.40 232.15L257.60 231.55L257.80 230.95L258.00 230.34L258.20 229.73L258.40 229.11L258.60 228.47L258.80 227.83L259.00 227.16L259.20 226.49L259.40 225.80L259.60 225.08L259.80 224.35L260.00 223.60L260.20 222.86L260.40 222.11L260.60 221.35L260.80 220.56L261.00 219.75L261.20 218.88L261.40 217.96L261.60 216.98L261.80 215.91L262.00 214.75L262.20 213.48L262.40 212.00L262.60 210.32L262.80 208.45L263.00 206.43L263.20 204.28L263.40 202.01L263.60 199.66L263.80 197.24L264.00 194.78L264.20 192.28L264.40 189.65L264.60 186.88L264.80 183.98L265.00 180.97L265.20 177.84L265.40 174.61L265.60 171.30L265.80 167.90L266.00 164.44L266.20 160.91L266.40 157.34L266.60 153.72L266.80 150.04L267.00 146.25L267.20 142.30L267.40 138.13L267.60 133.70L267.80 128.97L268.00 123.31L268.20 116.82L268.40 110.48L268.60 105.26L268.80 101.04L269.00 97.15L269.20 93.67L269.40 90.74L269.60 88.44L269.80 90.13L270.00 92.54L270.20 95.26L270.40 98.26L270.60 101.49L270.80 105.10L271.00 109.16L271.20 113.61L271.40 118.41L271.60 123.53L271.80 129.55L272.00 136.23L272.20 143.04L272.40 149.43L272.60 154.91L272.80 159.73L273.00 164.21L273.20 168.61L273.40 173.19L273.60 178.14L273.80 183.27L274.00 188.55L274.20 193.96L274.40 199.50L274.60 205.28L274.80 211.47L275.00 217.77L275.20 223.86L275.40 229.42L275.60 234.41L275.80 239.11L276.00 243.50L276.20 247.56L276.40 249.67L276.60 250.10L276.80 250.53L277.00 250.95L277.20 251.36L277.40 251.77L277.60 252.17L277.80 252.57L278.00 252.96L278.20 253.34L278.40 253.71L278.60 254.08L278.80 254.44L279.00 254.80L279.20 255.14L279.40 255.48L279.60 255.81L279.80 256.13L280.00 256.45L280.20 256.75L280.40 257.05L280.60 257.34L280.80 257.62L281.00 257.89L281.20 258.15L281.40 258.40L281.60 258.65L281.80 258.88L282.00 259.10L282.20 259.31L282.40 259.53L282.60 259.74L282.80 259.95L283.00 260.15L283.20 260.35L283.40 260.55L283.60 260.75L283.80 260.94L284.00 261.13L284.20 261.30L284.40 261.48L284.60 261.64L284.80 261.80L285.00 261.95L285.20 262.09L285.40 262.22L285.60 262.34L285.80 262.46L286.00 262.55L286.20 262.64L286.40 262.72L286.60 262.78L286.80 262.84L287.00 262.89L287.20 262.94L287.40 262.98L287.60 263.03L287.80 263.07L288.00 263.11L288.20 263.15L288.40 263.19L288.60 263.23L288.80 263.26L289.00 263.30L289.20 263.33L289.40 263.36L289.60 263.39L289.80 263.41L290.00 263.44L290.20 263.47L290.40 263.49L290.60 263.52L290.80 263.54L291.00 263.56L291.20 263.59L291.40 263.61L291.60 263.63L291.80 263.65L292.00 263.68L292.20 263.70L292.40 263.72L292.60 263.74L292.80 263.76L293.00 263.78L293.20 263.81L293.40 263.83L293.60 263.85L293.80 263.87L294.00 263.89L294.20 263.91L294.40 263.93L294.60 263.94L294.80 263.96L295.00 263.98L295.20 264.00L295.40 264.02L295.60 264.04L295.80 264.05L296.00 264.07L296.20 264.09L296.40 264.11L296.60 264.12L296.80 264.14L297.00 264.15L297.20 264.17L297.40 264.19L297.60 264.20L297.80 264.22L298.00 264.23L298.20 264.25L298.40 264.26L298.60 264.27L298.80 264.29L299.00 264.30L299.20 264.31L299.40 264.33L299.60 264.34L299.80 264.35L300.00 264.37L300.20 264.38L300.40 264.39L300.60 264.40L300.80 264.41L301.00 264.42L301.20 264.44L301.40 264.45L301.60 264.46L301.80 264.47L302.00 264.48L302.20 264.49L302.40 264.50L302.60 264.51L302.80 264.52L303.00 264.52L303.20 264.53L303.40 264.54L303.60 264.55L303.80 264.56L304.00 264.57L304.20 264.58L304.40 264.59L304.60 264.60L304.80 264.61L305.00 264.61L305.20 264.62L305.40 264.63L305.60 264.64L305.80 264.65L306.00 264.66L306.20 264.66L306.40 264.67L306.60 264.68L306.80 264.69L307.00 264.70L307.20 264.70L307.40 264.71L307.60 264.72L307.80 264.73L308.00 264.73L308.20 264.74L308.40 264.75L308.60 264.76L308.80 264.76L309.00 264.77L309.20 264.78L309.40 264.78L309.60 264.79L309.80 264.80L310.00 264.80L310.20 264.81L310.40 264.82L310.60 264.82L310.80 264.83L311.00 264.84L311.20 264.84L311.40 264.85L311.60 264.85L311.80 264.86L312.00 264.87L312.20 264.87L312.40 264.88L312.60 264.88L312.80 264.89L313.00 264.89L313.20 264.90L313.40 264.91L313.60 264.91L313.80 264.92L314.00 264.92L314.20 264.93L314.40 264.93L314.60 264.94L314.80 264.94L315.00 264.95L315.20 264.95L315.40 264.96L315.60 264.96L315.80 264.96L316.00 264.97L316.20 264.97L316.30 264.98L318.30 265.02L320.30 265.05L322.30 265.09L324.30 265.13L326.30 265.16L328.30 265.19L330.30 265.22L332.30 265.25L334.30 265.27L336.30 265.29L338.30 265.31L340.30 265.32L342.30 265.33L344.30 265.34L346.30 265.35L348.30 265.36L350.30 265.37L352.30 265.38L354.30 265.39L356.30 265.40L358.30 265.41L360.30 265.42L362.30 265.43L364.30 265.43L366.30 265.44L368.30 265.45L370.30 265.46L372.30 265.47L374.30 265.48L376.30 265.49L378.30 265.49L380.30 265.50L382.30 265.51L384.30 265.52L386.30 265.53L388.30 265.53L390.30 265.54L392.30 265.55L394.30 265.56L396.30 265.57L398.30 265.57L400.30 265.58L402.30 265.59L404.30 265.60L406.30 265.60L408.30 265.61L410.30 265.62L412.30 265.63L414.30 265.63L416.30 265.64L418.30 265.65L420.30 265.65L422.30 265.66L424.30 265.67L426.30 265.67L428.30 265.68L430.30 265.69L432.30 265.69L434.30 265.70L436.30 265.71L438.30 265.71L440.30 265.72L442.30 265.73L444.30 265.73L446.30 265.74L448.30 265.74L450.30 265.75L452.30 265.76L454.30 265.76L456.30 265.77L458.30 265.77L459.00 265.78"/>
<path d="M58.00 267.60L58.60 267.49L59.20 267.38L59.80 267.27L60.40 267.16L61.00 267.06L61.60 266.95L62.20 266.84L62.80 266.74L63.40 266.64L64.00 266.53L64.60 266.43L65.20 266.33L65.80 266.24L66.40 266.14L67.00 266.05L67.60 265.96L68.20 265.87L68.80 265.78L69.40 265.70L70.00 265.61L70.60 265.53L71.20 265.45L71.80 265.37L72.40 265.30L73.00 265.22L73.60 265.15L74.20 265.08L74.80 265.01L75.40 264.94L76.00 264.87L76.60 264.80L77.20 264.74L77.80 264.67L78.40 264.60L79.00 264.54L79.60 264.54L80.20 264.54L80.80 264.54L81.40 264.54L82.00 264.54L82.60 264.54L83.20 264.54L83.80 264.54L84.40 264.54L85.00 264.54L85.60 264.54L86.20 264.54L86.80 264.54L87.40 264.54L88.00 264.54L88.60 264.54L89.20 264.54L89.80 264.54L90.40 264.54L91.00 264.54L91.60 264.54L92.20 264.54L92.80 264.54L93.40 264.54L94.00 264.54L94.60 264.54L95.20 264.54L95.80 264.54L96.40 264.54L97.00 264.54L97.60 264.54L98.20 264.54L98.80 264.54L99.40 264.54L100.00 264.54L100.60 264.54L101.20 264.54L101.80 264.54L102.40 264.54L103.00 264.54L103.60 264.54L104.20 264.54L104.80 264.54L105.40 264.54L106.00 264.54L106.60 264.54L107.20 264.54L107.80 264.54L108.40 264.54L109.00 264.54L109.60 264.54L110.20 264.54L110.80 264.54L111.40 264.54L112.00 264.54L112.60 264.53L113.20 264.53L113.80 264.53L114.40 264.52L115.00 264.50L115.60 264.47L116.20 264.42L116.80 264.33L117.40 264.18L118.00 263.97L118.60 263.66L119.20 263.28L119.80 262.83L120.40 262.33L121.00 261.80L121.60 261.25L122.20 260.69L122.80 260.13L123.40 259.56L124.00 259.00L124.60 258.44L125.20 257.90L125.80 257.38L126.40 256.90L127.00 256.48L127.60 256.13L128.20 255.85L128.80 255.63L129.40 255.45L130.00 255.31L130.60 255.22L131.20 255.16L131.80 255.14L132.40 255.16L133.00 255.21L133.60 255.30L134.20 255.40L134.80 255.51L135.40 255.61L136.00 255.71L136.60 255.79L137.20 255.85L137.80 255.90L138.40 255.94L139.00 255.96L139.60 255.98L140.20 256.00L140.80 256.01L141.40 256.02L142.00 256.02L142.60 256.03L143.20 256.04L143.80 256.05L144.40 256.05L145.00 256.06L145.60 256.07L146.20 256.07L146.80 256.08L147.40 256.09L148.00 256.09L148.60 256.10L149.20 256.11L149.80 256.11L150.40 256.12L151.00 256.13L151.60 256.13L152.20 256.14L152.80 256.15L153.40 256.15L154.00 256.16L154.60 256.17L155.20 256.17L155.80 256.18L156.40 256.19L157.00 256.20L157.60 256.20L158.20 256.21L158.80 256.22L159.40 256.22L160.00 256.23L160.60 256.24L161.20 256.24L161.80 256.25L162.40 256.26L163.00 256.26L163.60 256.27L164.20 256.28L164.80 256.28L165.40 256.29L166.00 256.30L166.60 256.30L167.20 256.31L167.80 256.32L168.40 256.32L169.00 256.33L169.60 256.34L170.20 256.35L170.80 256.35L171.40 256.36L172.00 256.37L172.60 256.37L173.20 256.38L173.80 256.39L174.40 256.39L175.00 256.40L175.60 256.41L176.20 256.41L176.80 256.42L177.40 256.43L178.00 256.43L178.60 256.44L179.20 256.45L179.80 256.45L180.40 256.46L181.00 256.47L181.60 256.47L182.20 256.48L182.80 256.49L183.40 256.49L184.00 256.50L184.60 256.51L185.20 256.52L185.80 256.52L186.40 256.53L187.00 256.54L187.60 256.54L188.20 256.55L188.80 256.56L189.40 256.56L190.00 256.57L190.60 256.58L191.20 256.58L191.80 256.59L192.40 256.60L193.00 256.60L193.60 256.60L194.20 256.60L194.80 256.60L195.40 256.60L196.00 256.60L196.60 256.60L197.20 256.60L197.80 256.60L198.40 256.60L199.00 256.60L199.60 256.60L200.20 256.60L200.80 256.60L201.40 256.60L202.00 256.60L202.60 256.60L203.20 256.60L203.80 256.60L204.40 256.60L205.00 256.60L205.60 256.60L206.20 256.60L206.80 256.60L207.40 256.60L208.00 256.60L208.60 256.60L209.20 256.60L209.80 256.60L210.40 256.60L211.00 256.60L211.60 256.60L212.20 256.60L212.80 256.60L213.40 256.60L214.00 256.60L214.60 256.60L215.20 256.60L215.50 256.60L215.70 256.60L215.90 256.60L216.10 256.60L216.30 256.60L216.50 256.60L216.70 256.60L216.90 256.60L217.10 256.60L217.30 256.60L217.50 256.60L217.70 256.60L217.90 256.60L218.10 256.60L218.30 256.60L218.50 256.60L218.70 256.60L218.90 256.60L219.10 256.60L219.30 256.60L219.50 256.60L219.70 256.60L219.90 256.60L220.10 256.60L220.30 256.60L220.50 256.60L220.70 256.60L220.90 256.60L221.10 256.60L221.30 256.60L221.50 256.60L221.70 256.60L221.90 256.60L222.10 256.60L222.30 256.60L222.50 256.60L222.70 256.60L222.90 256.60L223.10 256.59L223.30 256.59L223.50 256.58L223.70 256.58L223.90 256.57L224.10 256.56L224.30 256.56L224.50 256.55L224.70 256.54L224.90 256.53L225.10 256.52L225.30 256.50L225.50 256.49L225.70 256.48L225.90 256.47L226.10 256.45L226.30 256.44L226.50 256.42L226.70 256.40L226.90 256.39L227.10 256.37L227.30 256.35L227.50 256.33L227.70 256.32L227.90 256.30L228.10 256.28L228.30 256.26L228.50 256.23L228.70 256.21L228.90 256.19L229.10 256.17L229.30 256.14L229.50 256.12L229.70 256.10L229.90 256.07L230.10 256.05L230.30 256.02L230.50 256.00L230.70 255.97L230.90 255.95L231.10 255.92L231.30 255.89L231.50 255.87L231.70 255.84L231.90 255.81L232.10 255.78L232.30 255.75L232.50 255.73L232.70 255.70L232.90 255.67L233.10 255.64L233.30 255.61L233.50 255.58L233.70 255.55L233.90 255.52L234.10 255.49L234.30 255.46L234.50 255.43L234.70 255.40L234.90 255.37L235.10 255.34L235.30 255.31L235.50 255.27L235.70 255.24L235.90 255.21L236.10 255.18L236.30 255.15L236.50 255.12L236.70 255.09L236.90 255.05L237.10 255.02L237.30 254.98L237.50 254.95L237.70 254.91L237.90 254.87L238.10 254.83L238.30 254.79L238.50 254.74L238.70 254.70L238.90 254.65L239.10 254.60L239.30 254.55L239.50 254.50L239.70 254.45L239.90 254.40L240.10 254.35L240.30 254.30L240.50 254.24L240.70 254.19L240.90 254.13L241.10 254.07L241.30 254.01L241.50 253.95L241.70 253.90L241.90 253.84L242.10 253.77L242.30 253.71L242.50 253.65L242.70 253.59L242.90 253.53L243.10 253.46L243.30 253.40L243.50 253.33L243.70 253.27L243.90 253.20L244.10 253.14L244.30 253.07L244.50 253.01L244.70 252.94L244.90 252.88L245.10 252.81L245.30 252.74L245.50 252.68L245.70 252.61L245.90 252.54L246.10 252.48L246.30 252.41L246.50 252.34L246.70 252.28L246.90 252.21L247.10 252.14L247.30 252.08L247.50 252.01L247.70 251.94L247.90 251.87L248.10 251.80L248.30 251.73L248.50 251.66L248.70 251.58L248.90 251.51L249.10 251.44L249.30 251.37L249.50 251.29L249.70 251.22L249.90 251.14L250.10 251.06L250.30 250.99L250.50 250.91L250.70 250.83L250.90 250.75L251.10 250.67L251.30 250.59L251.50 250.51L251.70 250.42L251.90 250.34L252.10 250.25L252.30 250.17L252.50 250.08L252.70 249.99L252.90 249.91L253.10 249.82L253.30 249.73L253.50 249.64L253.70 249.54L253.90 249.45L254.10 249.36L254.30 249.26L254.50 249.16L254.70 249.07L254.90 248.97L255.10 248.87L255.30 248.77L255.50 248.67L255.70 248.56L255.90 248.46L256.10 248.35L256.30 248.24L256.50 248.13L256.70 248.02L256.90 247.91L257.10 247.80L257.30 247.68L257.50 247.56L257.70 247.45L257.90 247.33L258.10 247.21L258.30 247.08L258.50 246.96L258.70 246.83L258.90 246.71L259.10 246.58L259.30 246.45L259.50 246.32L259.70 246.19L259.90 246.05L260.10 245.92L260.30 245.78L260.50 245.64L260.70 245.50L260.90 245.36L261.10 245.22L261.30 245.07L261.50 244.93L261.70 244.78L261.90 244.63L262.10 244.48L262.30 244.33L262.50 244.17L262.70 244.02L262.90 243.86L263.10 243.70L263.30 243.54L263.50 243.38L263.70 243.22L263.90 243.05L264.10 242.88L264.30 242.71L264.50 242.53L264.70 242.35L264.90 242.17L265.10 241.97L265.30 241.77L265.50 241.57L265.70 241.36L265.90 241.14L266.10 240.91L266.30 240.68L266.50 240.44L266.70 240.18L266.90 239.92L267.10 239.65L267.30 239.36L267.50 239.06L267.70 238.75L267.90 238.42L268.10 238.08L268.30 237.72L268.50 237.35L268.70 236.96L268.90 236.55L269.10 236.10L269.30 235.60L269.50 235.06L269.70 234.50L269.90 233.92L270.10 233.32L270.30 232.72L270.50 232.13L270.70 231.54L270.90 230.96L271.10 230.38L271.30 229.81L271.50 229.23L271.70 228.65L271.90 228.07L272.10 227.48L272.30 226.88L272.50 226.28L272.70 225.67L272.90 225.05L273.10 224.43L273.30 223.78L273.50 223.13L273.70 222.46L273.90 221.78L274.10 221.08L274.30 220.36L274.50 219.63L274.70 218.91L274.90 218.18L275.10 217.45L275.30 216.69L275.50 215.92L275.70 215.10L275.90 214.25L276.10 213.34L276.30 212.38L276.50 211.35L276.70 210.25L276.90 209.06L277.10 207.72L277.30 206.20L277.50 204.52L277.70 202.68L277.90 200.72L278.10 198.64L278.30 196.46L278.50 194.21L278.70 191.89L278.90 189.52L279.10 187.13L279.30 184.70L279.50 182.15L279.70 179.48L279.90 176.71L280.10 173.82L280.30 170.85L280.50 167.78L280.70 164.63L280.90 161.41L281.10 158.12L281.30 154.77L281.50 151.36L281.70 147.92L281.90 144.43L282.10 140.91L282.30 137.33L282.50 133.64L282.70 129.83L282.90 125.84L283.10 121.64L283.30 117.20L283.50 112.41L283.70 106.63L283.90 100.30L284.10 94.12L284.30 88.81L284.50 84.61L284.70 80.68L284.90 77.08L285.10 73.86L285.30 71.12L285.50 68.94L285.70 70.39L285.90 72.45L286.10 74.75L286.30 77.27L286.50 79.97L286.70 82.84L286.90 85.90L287.10 89.30L287.30 93.00L287.50 96.98L287.70 101.21L287.90 105.65L288.10 110.38L288.30 115.82L288.50 121.77L288.70 127.92L288.90 133.98L289.10 139.65L289.30 144.66L289.50 149.13L289.70 153.30L289.90 157.29L290.10 161.25L290.30 165.32L290.50 169.65L290.70 174.18L290.90 178.82L291.10 183.57L291.30 188.41L291.50 193.34L291.70 198.36L291.90 203.58L292.10 209.11L292.30 214.78L292.50 220.42L292.70 225.85L292.90 230.91L293.10 235.49L293.30 239.86L293.50 244.02L293.70 247.96L293.90 251.67L294.10 255.13L294.30 255.43L294.50 255.74L294.70 256.03L294.90 256.33L295.10 256.62L295.30 256.90L295.50 257.18L295.70 257.46L295.90 257.72L296.10 257.98L296.30 258.24L296.50 258.49L296.70 258.73L296.90 258.96L297.10 259.19L297.30 259.40L297.50 259.61L297.70 259.81L297.90 260.01L298.10 260.19L298.30 260.36L298.50 260.53L298.70 260.68L298.90 260.83L299.10 260.96L299.30 261.08L299.50 261.19L299.70 261.30L299.90 261.40L300.10 261.49L300.30 261.58L300.50 261.67L300.70 261.76L300.90 261.84L301.10 261.92L301.30 262.00L301.50 262.07L301.70 262.14L301.90 262.21L302.10 262.27L302.30 262.33L302.50 262.39L302.70 262.45L302.90 262.51L303.10 262.56L303.30 262.61L303.50 262.66L303.70 262.71L303.90 262.76L304.10 262.80L304.30 262.85L304.50 262.89L304.70 262.93L304.90 262.98L305.10 263.02L305.30 263.06L305.50 263.09L305.70 263.13L305.90 263.17L306.10 263.20L306.30 263.24L306.50 263.27L306.70 263.31L306.90 263.34L307.10 263.37L307.30 263.40L307.50 263.43L307.70 263.46L307.90 263.49L308.10 263.52L308.30 263.54L308.50 263.57L308.70 263.59L308.90 263.62L309.10 263.64L309.30 263.67L309.50 263.69L309.70 263.71L309.90 263.73L310.10 263.75L310.30 263.77L310.50 263.80L310.70 263.82L310.90 263.84L311.10 263.86L311.30 263.88L311.50 263.90L311.70 263.92L311.90 263.94L312.10 263.95L312.30 263.97L312.50 263.99L312.70 264.01L312.90 264.03L313.10 264.05L313.30 264.06L313.50 264.08L313.70 264.10L313.90 264.11L314.10 264.13L314.30 264.15L314.50 264.16L314.70 264.18L314.90 264.19L315.10 264.21L315.30 264.22L315.50 264.24L315.70 264.25L315.90 264.27L316.10 264.28L316.30 264.29L316.50 264.31L316.70 264.32L316.90 264.33L317.10 264.35L317.30 264.36L317.50 264.37L317.70 264.38L317.90 264.40L318.10 264.41L318.30 264.42L318.50 264.43L318.70 264.44L318.90 264.45L319.10 264.46L319.30 264.47L319.50 264.48L319.70 264.49L319.90 264.50L320.10 264.51L320.30 264.52L320.50 264.53L320.70 264.54L320.90 264.55L321.10 264.56L321.30 264.57L321.50 264.58L321.70 264.58L321.90 264.59L322.10 264.60L322.30 264.61L322.50 264.62L322.70 264.63L322.90 264.64L323.10 264.64L323.30 264.65L323.50 264.66L323.70 264.67L323.90 264.68L324.10 264.68L324.30 264.69L324.50 264.70L324.70 264.71L324.90 264.72L325.10 264.72L325.30 264.73L325.50 264.74L325.70 264.75L325.90 264.75L326.10 264.76L326.30 264.77L326.50 264.77L326.70 264.78L326.90 264.79L327.10 264.79L327.30 264.80L327.50 264.81L327.70 264.81L327.90 264.82L328.10 264.83L328.30 264.83L328.50 264.84L328.70 264.85L328.90 264.85L329.10 264.86L329.30 264.86L329.50 264.87L329.70 264.87L329.90 264.88L330.10 264.89L330.30 264.89L330.50 264.90L330.70 264.90L330.90 264.91L331.10 264.91L331.30 264.92L331.50 264.92L331.70 264.93L331.90 264.93L332.10 264.94L332.30 264.94L332.50 264.95L332.70 264.95L332.90 264.96L333.10 264.96L333.30 264.97L333.50 264.97L333.70 264.98L333.90 264.98L334.10 264.98L334.10 264.98L336.10 265.02L338.10 265.06L340.10 265.10L342.10 265.13L344.10 265.17L346.10 265.20L348.10 265.23L350.10 265.25L352.10 265.27L354.10 265.29L356.10 265.31L358.10 265.32L360.10 265.33L362.10 265.34L364.10 265.35L366.10 265.36L368.10 265.37L370.10 265.38L372.10 265.39L374.10 265.40L376.10 265.41L378.10 265.42L380.10 265.43L382.10 265.44L384.10 265.44L386.10 265.45L388.10 265.46L390.10 265.47L392.10 265.48L394.10 265.49L396.10 265.50L398.10 265.50L400.10 265.51L402.10 265.52L404.10 265.53L406.10 265.54L408.10 265.54L410.10 265.55L412.10 265.56L414.10 265.57L416.10 265.57L418.10 265.58L420.10 265.59L422.10 265.60L424.10 265.60L426.10 265.61L428.10 265.62L430.10 265.63L432.10 265.63L434.10 265.64L436.10 265.65L438.10 265.65L440.10 265.66L442.10 265.67L444.10 265.68L446.10 265.68L448.10 265.69L450.10 265.70L452.10 265.70L454.10 265.71L456.10 265.71L458.10 265.72L459.00 265.72"/>
<path d="M58.00 267.60L58.60 267.49L59.20 267.38L59.80 267.27L60.40 267.16L61.00 267.06L61.60 266.95L62.20 266.84L62.80 266.74L63.40 266.64L64.00 266.53L64.60 266.43L65.20 266.33L65.80 266.24L66.40 266.14L67.00 266.05L67.60 265.96L68.20 265.87L68.80 265.78L69.40 265.70L70.00 265.61L70.60 265.53L71.20 265.45L71.80 265.37L72.40 265.30L73.00 265.22L73.60 265.15L74.20 265.08L74.80 265.01L75.40 264.94L76.00 264.87L76.60 264.80L77.20 264.74L77.80 264.67L78.40 264.60L79.00 264.54L79.60 264.54L80.20 264.54L80.80 264.54L81.40 264.54L82.00 264.54L82.60 264.54L83.20 264.54L83.80 264.54L84.40 264.54L85.00 264.54L85.60 264.54L86.20 264.54L86.80 264.54L87.40 264.54L88.00 264.54L88.60 264.54L89.20 264.54L89.80 264.54L90.40 264.54L91.00 264.54L91.60 264.54L92.20 264.54L92.80 264.54L93.40 264.54L94.00 264.54L94.60 264.54L95.20 264.54L95.80 264.54L96.40 264.54L97.00 264.54L97.60 264.54L98.20 264.54L98.80 264.54L99.40 264.54L100.00 264.54L100.60 264.54L101.20 264.54L101.80 264.54L102.40 264.54L103.00 264.54L103.60 264.54L104.20 264.54L104.80 264.54L105.40 264.54L106.00 264.54L106.60 264.54L107.20 264.54L107.80 264.54L108.40 264.54L109.00 264.54L109.60 264.54L110.20 264.54L110.80 264.54L111.40 264.54L112.00 264.54L112.60 264.54L113.20 264.54L113.80 264.54L114.40 264.54L115.00 264.54L115.60 264.54L116.20 264.54L116.80 264.54L117.40 264.54L118.00 264.54L118.60 264.54L119.20 264.53L119.80 264.53L120.40 264.52L121.00 264.50L121.60 264.48L122.20 264.43L122.80 264.35L123.40 264.21L124.00 264.01L124.60 263.72L125.20 263.35L125.80 262.91L126.40 262.42L127.00 261.89L127.60 261.35L128.20 260.79L128.80 260.22L129.40 259.66L130.00 259.09L130.60 258.53L131.20 257.99L131.80 257.46L132.40 256.98L133.00 256.55L133.60 256.19L134.20 255.89L134.80 255.66L135.40 255.48L136.00 255.33L136.60 255.23L137.20 255.16L137.80 255.14L138.40 255.15L139.00 255.20L139.60 255.28L140.20 255.38L140.80 255.49L141.40 255.60L142.00 255.69L142.60 255.77L143.20 255.84L143.80 255.89L144.40 255.93L145.00 255.96L145.60 255.98L146.20 255.99L146.80 256.01L147.40 256.01L148.00 256.02L148.60 256.03L149.20 256.04L149.80 256.04L150.40 256.05L151.00 256.06L151.60 256.06L152.20 256.07L152.80 256.08L153.40 256.09L154.00 256.09L154.60 256.10L155.20 256.11L155.80 256.11L156.40 256.12L157.00 256.13L157.60 256.13L158.20 256.14L158.80 256.15L159.40 256.15L160.00 256.16L160.60 256.17L161.20 256.17L161.80 256.18L162.40 256.19L163.00 256.19L163.60 256.20L164.20 256.21L164.80 256.21L165.40 256.22L166.00 256.23L166.60 256.24L167.20 256.24L167.80 256.25L168.40 256.26L169.00 256.26L169.60 256.27L170.20 256.28L170.80 256.28L171.40 256.29L172.00 256.30L172.60 256.30L173.20 256.31L173.80 256.32L174.40 256.32L175.00 256.33L175.60 256.34L176.20 256.34L176.80 256.35L177.40 256.36L178.00 256.36L178.60 256.37L179.20 256.38L179.80 256.38L180.40 256.39L181.00 256.40L181.60 256.41L182.20 256.41L182.80 256.42L183.40 256.43L184.00 256.43L184.60 256.44L185.20 256.45L185.80 256.45L186.40 256.46L187.00 256.47L187.60 256.47L188.20 256.48L188.80 256.49L189.40 256.49L190.00 256.50L190.60 256.51L191.20 256.51L191.80 256.52L192.40 256.53L193.00 256.53L193.60 256.54L194.20 256.55L194.80 256.55L195.40 256.56L196.00 256.57L196.60 256.58L197.20 256.58L197.80 256.59L198.40 256.60L199.00 256.60L199.60 256.60L200.20 256.60L200.80 256.60L201.40 256.60L202.00 256.60L202.60 256.60L203.20 256.60L203.80 256.60L204.40 256.60L205.00 256.60L205.60 256.60L206.20 256.60L206.80 256.60L207.40 256.60L208.00 256.60L208.60 256.60L209.20 256.60L209.80 256.60L210.40 256.60L211.00 256.60L211.60 256.60L212.20 256.60L212.80 256.60L213.40 256.60L214.00 256.60L214.60 256.60L215.20 256.60L215.80 256.60L216.40 256.60L217.00 256.60L217.60 256.60L218.20 256.60L218.80 256.60L219.40 256.60L220.00 256.60L220.60 256.60L220.70 256.60L220.90 256.60L221.10 256.60L221.30 256.60L221.50 256.60L221.70 256.60L221.90 256.60L222.10 256.60L222.30 256.60L222.50 256.60L222.70 256.60L222.90 256.60L223.10 256.60L223.30 256.60L223.50 256.60L223.70 256.60L223.90 256.60L224.10 256.60L224.30 256.60L224.50 256.60L224.70 256.60L224.90 256.60L225.10 256.60L225.30 256.60L225.50 256.59L225.70 256.59L225.90 256.59L226.10 256.58L226.30 256.58L226.50 256.57L226.70 256.57L226.90 256.56L227.10 256.55L227.30 256.55L227.50 256.54L227.70 256.53L227.90 256.52L228.10 256.51L228.30 256.50L228.50 256.49L228.70 256.48L228.90 256.47L229.10 256.46L229.30 256.44L229.50 256.43L229.70 256.42L229.90 256.40L230.10 256.39L230.30 256.38L230.50 256.36L230.70 256.34L230.90 256.33L231.10 256.31L231.30 256.30L231.50 256.28L231.70 256.26L231.90 256.24L232.10 256.23L232.30 256.21L232.50 256.19L232.70 256.17L232.90 256.15L233.10 256.13L233.30 256.11L233.50 256.09L233.70 256.07L233.90 256.05L234.10 256.03L234.30 256.01L234.50 255.99L234.70 255.97L234.90 255.95L235.10 255.92L235.30 255.90L235.50 255.88L235.70 255.86L235.90 255.83L236.10 255.81L236.30 255.79L236.50 255.76L236.70 255.74L236.90 255.72L237.10 255.69L237.30 255.67L237.50 255.65L237.70 255.62L237.90 255.60L238.10 255.58L238.30 255.55L238.50 255.53L238.70 255.50L238.90 255.48L239.10 255.45L239.30 255.43L239.50 255.41L239.70 255.38L239.90 255.36L240.10 255.33L240.30 255.30L240.50 255.27L240.70 255.25L240.90 255.22L241.10 255.18L241.30 255.15L241.50 255.12L241.70 255.08L241.90 255.05L242.10 255.01L242.30 254.98L242.50 254.94L242.70 254.90L242.90 254.86L243.10 254.82L243.30 254.78L243.50 254.74L243.70 254.69L243.90 254.65L244.10 254.61L244.30 254.56L244.50 254.52L244.70 254.47L244.90 254.43L245.10 254.38L245.30 254.33L245.50 254.29L245.70 254.24L245.90 254.19L246.10 254.14L246.30 254.09L246.50 254.04L246.70 253.99L246.90 253.94L247.10 253.89L247.30 253.84L247.50 253.79L247.70 253.74L247.90 253.69L248.10 253.64L248.30 253.58L248.50 253.53L248.70 253.48L248.90 253.43L249.10 253.38L249.30 253.33L249.50 253.28L249.70 253.22L249.90 253.17L250.10 253.12L250.30 253.07L250.50 253.02L250.70 252.96L250.90 252.91L251.10 252.86L251.30 252.80L251.50 252.75L251.70 252.69L251.90 252.64L252.10 252.58L252.30 252.53L252.50 252.47L252.70 252.41L252.90 252.36L253.10 252.30L253.30 252.24L253.50 252.18L253.70 252.12L253.90 252.06L254.10 252.00L254.30 251.94L254.50 251.88L254.70 251.82L254.90 251.75L255.10 251.69L255.30 251.63L255.50 251.56L255.70 251.50L255.90 251.43L256.10 251.36L256.30 251.30L256.50 251.23L256.70 251.16L256.90 251.09L257.10 251.02L257.30 250.95L257.50 250.88L257.70 250.80L257.90 250.73L258.10 250.66L258.30 250.58L258.50 250.51L258.70 250.43L258.90 250.35L259.10 250.28L259.30 250.20L259.50 250.12L259.70 250.03L259.90 249.95L260.10 249.87L260.30 249.78L260.50 249.70L260.70 249.61L260.90 249.53L261.10 249.44L261.30 249.35L261.50 249.26L261.70 249.16L261.90 249.07L262.10 248.98L262.30 248.88L262.50 248.79L262.70 248.69L262.90 248.59L263.10 248.49L263.30 248.39L263.50 248.29L263.70 248.19L263.90 248.08L264.10 247.98L264.30 247.87L264.50 247.76L264.70 247.66L264.90 247.55L265.10 247.44L265.30 247.32L265.50 247.21L265.70 247.10L265.90 246.98L266.10 246.87L266.30 246.75L266.50 246.63L266.70 246.51L266.90 246.39L267.10 246.27L267.30 246.14L267.50 246.02L267.70 245.89L267.90 245.77L268.10 245.64L268.30 245.51L268.50 245.38L268.70 245.24L268.90 245.10L269.10 244.96L269.30 244.81L269.50 244.66L269.70 244.50L269.90 244.34L270.10 244.17L270.30 244.00L270.50 243.83L270.70 243.64L270.90 243.45L271.10 243.25L271.30 243.05L271.50 242.84L271.70 242.61L271.90 242.38L272.10 242.14L272.30 241.89L272.50 241.62L272.70 241.35L272.90 241.06L273.10 240.76L273.30 240.45L273.50 240.11L273.70 239.74L273.90 239.33L274.10 238.91L274.30 238.46L274.50 238.00L274.70 237.54L274.90 237.07L275.10 236.61L275.30 236.16L275.50 235.71L275.70 235.26L275.90 234.81L276.10 234.36L276.30 233.91L276.50 233.45L276.70 233.00L276.90 232.53L277.10 232.07L277.30 231.59L277.50 231.11L277.70 230.63L277.90 230.13L278.10 229.63L278.30 229.11L278.50 228.58L278.70 228.05L278.90 227.49L279.10 226.93L279.30 226.36L279.50 225.80L279.70 225.24L279.90 224.66L280.10 224.07L280.30 223.46L280.50 222.82L280.70 222.16L280.90 221.45L281.10 220.70L281.30 219.90L281.50 219.04L281.70 218.13L281.90 217.11L282.10 215.95L282.30 214.67L282.50 213.27L282.70 211.77L282.90 210.18L283.10 208.52L283.30 206.79L283.50 205.01L283.70 203.19L283.90 201.33L284.10 199.47L284.30 197.54L284.50 195.53L284.70 193.43L284.90 191.25L285.10 189.00L285.30 186.67L285.50 184.28L285.70 181.82L285.90 179.31L286.10 176.75L286.30 174.15L286.50 171.51L286.70 168.83L286.90 166.12L287.10 163.39L287.30 160.62L287.50 157.78L287.70 154.85L287.90 151.80L288.10 148.61L288.30 145.25L288.50 141.70L288.70 137.67L288.90 132.94L289.10 127.98L289.30 123.33L289.50 119.48L289.70 116.28L289.90 113.27L290.10 110.50L290.30 108.04L290.50 105.93L290.70 104.24L290.90 105.63L291.10 107.68L291.30 109.99L291.50 112.54L291.70 115.27L291.90 118.29L292.10 121.70L292.30 125.44L292.50 129.47L292.70 133.75L292.90 138.64L293.10 144.22L293.30 150.06L293.50 155.72L293.70 160.76L293.90 165.09L294.10 169.03L294.30 172.80L294.50 176.61L294.70 180.66L294.90 184.98L295.10 189.41L295.30 193.97L295.50 198.64L295.70 203.41L295.90 208.46L296.10 213.80L296.30 219.17L296.50 224.32L296.70 229.00L296.90 233.23L297.10 237.23L297.30 240.97L297.50 244.43L297.70 246.42L297.90 247.15L298.10 247.87L298.30 248.58L298.50 249.28L298.70 249.97L298.90 250.64L299.10 251.30L299.30 251.94L299.50 252.56L299.70 253.17L299.90 253.76L300.10 254.32L300.30 254.87L300.50 255.39L300.70 255.90L300.90 256.37L301.10 256.83L301.30 257.25L301.50 257.65L301.70 258.03L301.90 258.37L302.10 258.68L302.30 258.97L302.50 259.22L302.70 259.46L302.90 259.70L303.10 259.93L303.30 260.16L303.50 260.38L303.70 260.59L303.90 260.79L304.10 260.99L304.30 261.17L304.50 261.35L304.70 261.53L304.90 261.69L305.10 261.84L305.30 261.99L305.50 262.12L305.70 262.25L305.90 262.36L306.10 262.47L306.30 262.56L306.50 262.65L306.70 262.72L306.90 262.78L307.10 262.84L307.30 262.89L307.50 262.94L307.70 262.99L307.90 263.03L308.10 263.07L308.30 263.12L308.50 263.16L308.70 263.19L308.90 263.23L309.10 263.26L309.30 263.30L309.50 263.33L309.70 263.36L309.90 263.39L310.10 263.42L310.30 263.44L310.50 263.47L310.70 263.49L310.90 263.52L311.10 263.54L311.30 263.56L311.50 263.59L311.70 263.61L311.90 263.63L312.10 263.65L312.30 263.68L312.50 263.70L312.70 263.72L312.90 263.74L313.10 263.76L313.30 263.78L313.50 263.81L313.70 263.83L313.90 263.85L314.10 263.87L314.30 263.89L314.50 263.91L314.70 263.93L314.90 263.94L315.10 263.96L315.30 263.98L315.50 264.00L315.70 264.02L315.90 264.04L316.10 264.05L316.30 264.07L316.50 264.09L316.70 264.11L316.90 264.12L317.10 264.14L317.30 264.15L317.50 264.17L317.70 264.19L317.90 264.20L318.10 264.22L318.30 264.23L318.50 264.25L318.70 264.26L318.90 264.27L319.10 264.29L319.30 264.30L319.50 264.31L319.70 264.33L319.90 264.34L320.10 264.35L320.30 264.37L320.50 264.38L320.70 264.39L320.90 264.40L321.10 264.41L321.30 264.42L321.50 264.44L321.70 264.45L321.90 264.46L322.10 264.47L322.30 264.48L322.50 264.49L322.70 264.50L322.90 264.51L323.10 264.52L323.30 264.52L323.50 264.53L323.70 264.54L323.90 264.55L324.10 264.56L324.30 264.57L324.50 264.58L324.70 264.59L324.90 264.60L325.10 264.61L325.30 264.61L325.50 264.62L325.70 264.63L325.90 264.64L326.10 264.65L326.30 264.66L326.50 264.66L326.70 264.67L326.90 264.68L327.10 264.69L327.30 264.70L327.50 264.70L327.70 264.71L327.90 264.72L328.10 264.73L328.30 264.73L328.50 264.74L328.70 264.75L328.90 264.76L329.10 264.76L329.30 264.77L329.50 264.78L329.70 264.78L329.90 264.79L330.10 264.80L330.30 264.80L330.50 264.81L330.70 264.82L330.90 264.82L331.10 264.83L331.30 264.84L331.50 264.84L331.70 264.85L331.90 264.85L332.10 264.86L332.30 264.87L332.50 264.87L332.70 264.88L332.90 264.88L333.10 264.89L333.30 264.89L333.50 264.90L333.70 264.91L333.90 264.91L334.10 264.92L334.30 264.92L334.50 264.93L334.70 264.93L334.90 264.94L335.10 264.94L335.30 264.95L335.50 264.95L335.70 264.96L335.90 264.96L336.10 264.96L336.30 264.97L336.50 264.97L336.70 264.98L336.90 264.98L337.10 264.99L337.30 264.99L337.50 264.99L337.60 265.00L339.60 265.04L341.60 265.07L343.60 265.11L345.60 265.14L347.60 265.18L349.60 265.21L351.60 265.23L353.60 265.26L355.60 265.28L357.60 265.30L359.60 265.32L361.60 265.33L363.60 265.34L365.60 265.35L367.60 265.36L369.60 265.37L371.60 265.38L373.60 265.38L375.60 265.39L377.60 265.40L379.60 265.41L381.60 265.42L383.60 265.43L385.60 265.44L387.60 265.45L389.60 265.46L391.60 265.46L393.60 265.47L395.60 265.48L397.60 265.49L399.60 265.50L401.60 265.51L403.60 265.51L405.60 265.52L407.60 265.53L409.60 265.54L411.60 265.55L413.60 265.55L415.60 265.56L417.60 265.57L419.60 265.58L421.60 265.58L423.60 265.59L425.60 265.60L427.60 265.61L429.60 265.61L431.60 265.62L433.60 265.63L435.60 265.64L437.60 265.64L439.60 265.65L441.60 265.66L443.60 265.66L445.60 265.67L447.60 265.68L449.60 265.68L451.60 265.69L453.60 265.70L455.60 265.70L457.60 265.71L459.60 265.72L461.60 265.72L463.60 265.73L465.60 265.73L467.60 265.74L469.60 265.75L471.60 265.75L473.60 265.76L475.60 265.76L477.60 265.77L479.60 265.78L481.60 265.78L483.60 265.79L485.60 265.79L487.60 265.80L489.60 265.80L491.60 265.81L493.60 265.81L495.60 265.82L497.60 265.82L499.60 265.83L501.60 265.84L503.60 265.84L505.00 265.84"/>
<path d="M58.00 267.60L58.60 267.49L59.20 267.38L59.80 267.27L60.40 267.16L61.00 267.06L61.60 266.95L62.20 266.84L62.80 266.74L63.40 266.64L64.00 266.53L64.60 266.43L65.20 266.33L65.80 266.24L66.40 266.14L67.00 266.05L67.60 265.96L68.20 265.87L68.80 265.78L69.40 265.70L70.00 265.61L70.60 265.53L71.20 265.45L71.80 265.37L72.40 265.30L73.00 265.22L73.60 265.15L74.20 265.08L74.80 265.01L75.40 264.94L76.00 264.87L76.60 264.80L77.20 264.74L77.80 264.67L78.40 264.60L79.00 264.54L79.60 264.54L80.20 264.54L80.80 264.54L81.40 264.54L82.00 264.54L82.60 264.54L83.20 264.54L83.80 264.54L84.40 264.54L85.00 264.54L85.60 264.54L86.20 264.54L86.80 264.54L87.40 264.54L88.00 264.54L88.60 264.54L89.20 264.54L89.80 264.54L90.40 264.54L91.00 264.54L91.60 264.54L92.20 264.54L92.80 264.54L93.40 264.54L94.00 264.54L94.60 264.54L95.20 264.54L95.80 264.54L96.40 264.54L97.00 264.54L97.60 264.54L98.20 264.54L98.80 264.54L99.40 264.54L100.00 264.54L100.60 264.54L101.20 264.54L101.80 264.54L102.40 264.54L103.00 264.54L103.60 264.54L104.20 264.54L104.80 264.54L105.40 264.54L106.00 264.54L106.60 264.54L107.20 264.54L107.80 264.54L108.40 264.54L109.00 264.54L109.60 264.54L110.20 264.54L110.80 264.54L111.40 264.54L112.00 264.54L112.60 264.54L113.20 264.54L113.80 264.54L114.40 264.54L115.00 264.54L115.60 264.54L116.20 264.54L116.80 264.54L117.40 264.54L118.00 264.54L118.60 264.54L119.20 264.54L119.80 264.54L120.40 264.54L121.00 264.54L121.60 264.54L122.20 264.54L122.80 264.54L123.40 264.54L124.00 264.54L124.60 264.54L125.20 264.54L125.80 264.54L126.40 264.54L127.00 264.53L127.60 264.53L128.20 264.53L128.80 264.51L129.40 264.50L130.00 264.46L130.60 264.40L131.20 264.31L131.80 264.15L132.40 263.92L133.00 263.61L133.60 263.21L134.20 262.75L134.80 262.25L135.40 261.71L136.00 261.16L136.60 260.60L137.20 260.04L137.80 259.47L138.40 258.91L139.00 258.35L139.60 257.81L140.20 257.30L140.80 256.83L141.40 256.42L142.00 256.08L142.60 255.81L143.20 255.59L143.80 255.42L144.40 255.29L145.00 255.20L145.60 255.15L146.20 255.14L146.80 255.16L147.40 255.22L148.00 255.31L148.60 255.42L149.20 255.53L149.80 255.63L150.40 255.72L151.00 255.80L151.60 255.86L152.20 255.91L152.80 255.94L153.40 255.97L154.00 255.98L154.60 256.00L155.20 256.01L155.80 256.02L156.40 256.03L157.00 256.03L157.60 256.04L158.20 256.05L158.80 256.05L159.40 256.06L160.00 256.07L160.60 256.07L161.20 256.08L161.80 256.09L162.40 256.09L163.00 256.10L163.60 256.11L164.20 256.11L164.80 256.12L165.40 256.13L166.00 256.14L166.60 256.14L167.20 256.15L167.80 256.16L168.40 256.16L169.00 256.17L169.60 256.18L170.20 256.18L170.80 256.19L171.40 256.20L172.00 256.20L172.60 256.21L173.20 256.22L173.80 256.22L174.40 256.23L175.00 256.24L175.60 256.24L176.20 256.25L176.80 256.26L177.40 256.26L178.00 256.27L178.60 256.28L179.20 256.28L179.80 256.29L180.40 256.30L181.00 256.31L181.60 256.31L182.20 256.32L182.80 256.33L183.40 256.33L184.00 256.34L184.60 256.35L185.20 256.35L185.80 256.36L186.40 256.37L187.00 256.37L187.60 256.38L188.20 256.39L188.80 256.39L189.40 256.40L190.00 256.41L190.60 256.41L191.20 256.42L191.80 256.43L192.40 256.43L193.00 256.44L193.60 256.45L194.20 256.46L194.80 256.46L195.40 256.47L196.00 256.48L196.60 256.48L197.20 256.49L197.80 256.50L198.40 256.50L199.00 256.51L199.60 256.52L200.20 256.52L200.80 256.53L201.40 256.54L202.00 256.54L202.60 256.55L203.20 256.56L203.80 256.56L204.40 256.57L205.00 256.58L205.60 256.58L206.20 256.59L206.80 256.60L207.40 256.60L208.00 256.60L208.60 256.60L209.20 256.60L209.80 256.60L210.40 256.60L211.00 256.60L211.60 256.60L212.20 256.60L212.80 256.60L213.40 256.60L214.00 256.60L214.60 256.60L215.20 256.60L215.80 256.60L216.40 256.60L217.00 256.60L217.60 256.60L218.20 256.60L218.80 256.60L219.40 256.60L220.00 256.60L220.60 256.60L221.20 256.60L221.80 256.60L222.40 256.60L223.00 256.60L223.60 256.60L224.20 256.60L224.80 256.60L225.40 256.60L226.00 256.60L226.60 256.60L227.20 256.60L227.80 256.60L228.40 256.60L229.00 256.60L229.60 256.60L230.20 256.60L230.80 256.60L231.40 256.60L231.70 256.60L231.90 256.60L232.10 256.60L232.30 256.60L232.50 256.60L232.70 256.60L232.90 256.60L233.10 256.60L233.30 256.60L233.50 256.60L233.70 256.60L233.90 256.60L234.10 256.60L234.30 256.60L234.50 256.60L234.70 256.60L234.90 256.60L235.10 256.60L235.30 256.60L235.50 256.60L235.70 256.60L235.90 256.60L236.10 256.60L236.30 256.60L236.50 256.59L236.70 256.59L236.90 256.59L237.10 256.58L237.30 256.58L237.50 256.57L237.70 256.57L237.90 256.56L238.10 256.55L238.30 256.54L238.50 256.53L238.70 256.52L238.90 256.51L239.10 256.50L239.30 256.49L239.50 256.48L239.70 256.47L239.90 256.46L240.10 256.44L240.30 256.43L240.50 256.42L240.70 256.40L240.90 256.39L241.10 256.37L241.30 256.36L241.50 256.34L241.70 256.32L241.90 256.31L242.10 256.29L242.30 256.27L242.50 256.25L242.70 256.23L242.90 256.21L243.10 256.19L243.30 256.17L243.50 256.15L243.70 256.13L243.90 256.11L244.10 256.09L244.30 256.07L244.50 256.05L244.70 256.03L244.90 256.00L245.10 255.98L245.30 255.96L245.50 255.93L245.70 255.91L245.90 255.89L246.10 255.86L246.30 255.84L246.50 255.81L246.70 255.79L246.90 255.77L247.10 255.74L247.30 255.72L247.50 255.69L247.70 255.67L247.90 255.64L248.10 255.61L248.30 255.59L248.50 255.56L248.70 255.54L248.90 255.51L249.10 255.48L249.30 255.46L249.50 255.43L249.70 255.41L249.90 255.38L250.10 255.35L250.30 255.33L250.50 255.30L250.70 255.27L250.90 255.25L251.10 255.22L251.30 255.19L251.50 255.16L251.70 255.13L251.90 255.09L252.10 255.06L252.30 255.02L252.50 254.99L252.70 254.95L252.90 254.91L253.10 254.87L253.30 254.83L253.50 254.79L253.70 254.75L253.90 254.70L254.10 254.66L254.30 254.62L254.50 254.57L254.70 254.52L254.90 254.48L255.10 254.43L255.30 254.38L255.50 254.33L255.70 254.28L255.90 254.23L256.10 254.18L256.30 254.13L256.50 254.08L256.70 254.03L256.90 253.98L257.10 253.92L257.30 253.87L257.50 253.81L257.70 253.76L257.90 253.71L258.10 253.65L258.30 253.60L258.50 253.54L258.70 253.49L258.90 253.43L259.10 253.37L259.30 253.32L259.50 253.26L259.70 253.21L259.90 253.15L260.10 253.09L260.30 253.04L260.50 252.98L260.70 252.92L260.90 252.87L261.10 252.81L261.30 252.76L261.50 252.70L261.70 252.64L261.90 252.58L262.10 252.53L262.30 252.47L262.50 252.41L262.70 252.35L262.90 252.29L263.10 252.23L263.30 252.17L263.50 252.11L263.70 252.04L263.90 251.98L264.10 251.92L264.30 251.85L264.50 251.79L264.70 251.73L264.90 251.66L265.10 251.59L265.30 251.53L265.50 251.46L265.70 251.39L265.90 251.32L266.10 251.26L266.30 251.19L266.50 251.12L266.70 251.04L266.90 250.97L267.10 250.90L267.30 250.83L267.50 250.75L267.70 250.68L267.90 250.60L268.10 250.53L268.30 250.45L268.50 250.37L268.70 250.29L268.90 250.21L269.10 250.13L269.30 250.05L269.50 249.97L269.70 249.88L269.90 249.80L270.10 249.71L270.30 249.63L270.50 249.54L270.70 249.45L270.90 249.36L271.10 249.27L271.30 249.18L271.50 249.09L271.70 248.99L271.90 248.90L272.10 248.80L272.30 248.70L272.50 248.61L272.70 248.51L272.90 248.40L273.10 248.30L273.30 248.20L273.50 248.09L273.70 247.99L273.90 247.88L274.10 247.77L274.30 247.66L274.50 247.55L274.70 247.44L274.90 247.33L275.10 247.21L275.30 247.10L275.50 246.98L275.70 246.86L275.90 246.74L276.10 246.62L276.30 246.50L276.50 246.38L276.70 246.26L276.90 246.13L277.10 246.00L277.30 245.88L277.50 245.75L277.70 245.62L277.90 245.48L278.10 245.35L278.30 245.22L278.50 245.08L278.70 244.95L278.90 244.81L279.10 244.67L279.30 244.53L279.50 244.38L279.70 244.23L279.90 244.08L280.10 243.93L280.30 243.77L280.50 243.60L280.70 243.43L280.90 243.25L281.10 243.07L281.30 242.89L281.50 242.69L281.70 242.49L281.90 242.29L282.10 242.07L282.30 241.85L282.50 241.62L282.70 241.37L282.90 241.12L283.10 240.86L283.30 240.58L283.50 240.30L283.70 240.00L283.90 239.68L284.10 239.36L284.30 239.02L284.50 238.65L284.70 238.24L284.90 237.80L285.10 237.34L285.30 236.85L285.50 236.36L285.70 235.85L285.90 235.34L286.10 234.84L286.30 234.34L286.50 233.85L286.70 233.37L286.90 232.88L287.10 232.39L287.30 231.90L287.50 231.40L287.70 230.90L287.90 230.40L288.10 229.89L288.30 229.38L288.50 228.86L288.70 228.33L288.90 227.79L289.10 227.24L289.30 226.67L289.50 226.10L289.70 225.52L289.90 224.91L290.10 224.30L290.30 223.68L290.50 223.07L290.70 222.46L290.90 221.83L291.10 221.19L291.30 220.52L291.50 219.83L291.70 219.10L291.90 218.33L292.10 217.52L292.30 216.65L292.50 215.72L292.70 214.72L292.90 213.61L293.10 212.35L293.30 210.95L293.50 209.43L293.70 207.80L293.90 206.07L294.10 204.26L294.30 202.38L294.50 200.44L294.70 198.45L294.90 196.44L295.10 194.40L295.30 192.31L295.50 190.12L295.70 187.84L295.90 185.46L296.10 183.01L296.30 180.47L296.50 177.87L296.70 175.20L296.90 172.46L297.10 169.68L297.30 166.84L297.50 163.97L297.70 161.05L297.90 158.10L298.10 155.13L298.30 152.11L298.50 149.02L298.70 145.83L298.90 142.52L299.10 139.04L299.30 135.39L299.50 131.51L299.70 127.13L299.90 121.98L300.10 116.59L300.30 111.52L300.50 107.33L300.70 103.84L300.90 100.57L301.10 97.56L301.30 94.87L301.50 92.58L301.70 90.74L301.90 92.00L302.10 93.85L302.30 95.91L302.50 98.17L302.70 100.59L302.90 103.16L303.10 105.92L303.30 108.98L303.50 112.31L303.70 115.89L303.90 119.69L304.10 123.68L304.30 127.99L304.50 132.95L304.70 138.31L304.90 143.81L305.10 149.18L305.30 154.14L305.50 158.48L305.70 162.41L305.90 166.08L306.10 169.63L306.30 173.18L306.50 176.87L306.70 180.81L306.90 184.89L307.10 189.06L307.30 193.33L307.50 197.69L307.70 202.12L307.90 206.64L308.10 211.42L308.30 216.42L308.50 221.50L308.70 226.48L308.90 231.22L309.10 235.54L309.30 239.53L309.50 243.35L309.70 246.98L309.90 250.40L310.10 253.61L310.30 255.26L310.50 255.52L310.70 255.77L310.90 256.02L311.10 256.27L311.30 256.51L311.50 256.76L311.70 256.99L311.90 257.22L312.10 257.45L312.30 257.68L312.50 257.90L312.70 258.11L312.90 258.32L313.10 258.52L313.30 258.72L313.50 258.92L313.70 259.11L313.90 259.29L314.10 259.47L314.30 259.64L314.50 259.81L314.70 259.97L314.90 260.13L315.10 260.27L315.30 260.42L315.50 260.55L315.70 260.68L315.90 260.81L316.10 260.93L316.30 261.05L316.50 261.17L316.70 261.29L316.90 261.40L317.10 261.51L317.30 261.62L317.50 261.72L317.70 261.82L317.90 261.92L318.10 262.02L318.30 262.11L318.50 262.20L318.70 262.28L318.90 262.36L319.10 262.44L319.30 262.51L319.50 262.58L319.70 262.64L319.90 262.70L320.10 262.76L320.30 262.81L320.50 262.85L320.70 262.90L320.90 262.94L321.10 262.99L321.30 263.03L321.50 263.07L321.70 263.11L321.90 263.15L322.10 263.18L322.30 263.22L322.50 263.25L322.70 263.29L322.90 263.32L323.10 263.35L323.30 263.38L323.50 263.41L323.70 263.44L323.90 263.47L324.10 263.49L324.30 263.52L324.50 263.55L324.70 263.57L324.90 263.60L325.10 263.62L325.30 263.64L325.50 263.67L325.70 263.69L325.90 263.71L326.10 263.73L326.30 263.75L326.50 263.77L326.70 263.80L326.90 263.82L327.10 263.84L327.30 263.86L327.50 263.88L327.70 263.90L327.90 263.92L328.10 263.94L328.30 263.95L328.50 263.97L328.70 263.99L328.90 264.01L329.10 264.03L329.30 264.05L329.50 264.06L329.70 264.08L329.90 264.10L330.10 264.11L330.30 264.13L330.50 264.15L330.70 264.16L330.90 264.18L331.10 264.19L331.30 264.21L331.50 264.22L331.70 264.24L331.90 264.25L332.10 264.27L332.30 264.28L332.50 264.29L332.70 264.31L332.90 264.32L333.10 264.33L333.30 264.35L333.50 264.36L333.70 264.37L333.90 264.38L334.10 264.40L334.30 264.41L334.50 264.42L334.70 264.43L334.90 264.44L335.10 264.45L335.30 264.46L335.50 264.47L335.70 264.48L335.90 264.49L336.10 264.50L336.30 264.51L336.50 264.52L336.70 264.53L336.90 264.54L337.10 264.55L337.30 264.56L337.50 264.57L337.70 264.58L337.90 264.58L338.10 264.59L338.30 264.60L338.50 264.61L338.70 264.62L338.90 264.63L339.10 264.64L339.30 264.64L339.50 264.65L339.70 264.66L339.90 264.67L340.10 264.68L340.30 264.68L340.50 264.69L340.70 264.70L340.90 264.71L341.10 264.72L341.30 264.72L341.50 264.73L341.70 264.74L341.90 264.75L342.10 264.75L342.30 264.76L342.50 264.77L342.70 264.77L342.90 264.78L343.10 264.79L343.30 264.79L343.50 264.80L343.70 264.81L343.90 264.81L344.10 264.82L344.30 264.83L344.50 264.83L344.70 264.84L344.90 264.85L345.10 264.85L345.30 264.86L345.50 264.86L345.70 264.87L345.90 264.87L346.10 264.88L346.30 264.89L346.50 264.89L346.70 264.90L346.90 264.90L347.10 264.91L347.30 264.91L347.50 264.92L347.70 264.92L347.90 264.93L348.10 264.93L348.30 264.94L348.50 264.94L348.70 264.95L348.90 264.95L349.10 264.96L349.30 264.96L349.50 264.97L349.70 264.97L349.90 264.98L350.10 264.98L350.20 264.98L352.20 265.02L354.20 265.06L356.20 265.10L358.20 265.13L360.20 265.16L362.20 265.20L364.20 265.22L366.20 265.25L368.20 265.27L370.20 265.29L372.20 265.31L374.20 265.32L376.20 265.33L378.20 265.34L380.20 265.35L382.20 265.36L384.20 265.37L386.20 265.38L388.20 265.39L390.20 265.40L392.20 265.41L394.20 265.42L396.20 265.43L398.20 265.44L400.20 265.44L402.20 265.45L404.20 265.46L406.20 265.47L408.20 265.48L410.20 265.49L412.20 265.49L414.20 265.50L416.20 265.51L418.20 265.52L420.20 265.53L422.20 265.54L424.20 265.54L426.20 265.55L428.20 265.56L430.20 265.57L432.20 265.57L434.20 265.58L436.20 265.59L438.20 265.60L440.20 265.60L442.20 265.61L444.20 265.62L446.20 265.63L448.20 265.63L450.20 265.64L452.20 265.65L454.20 265.65L456.20 265.66L458.20 265.67L460.20 265.68L462.20 265.68L464.20 265.69L466.20 265.69L468.20 265.70L470.20 265.71L472.20 265.71L474.20 265.72L476.20 265.73L478.20 265.73L480.20 265.74L482.20 265.75L484.20 265.75L486.20 265.76L488.20 265.76L490.20 265.77L492.20 265.77L494.20 265.78L496.20 265.79L498.20 265.79L500.20 265.80L502.20 265.80L504.20 265.81L505.00 265.81"/>
</g>
<g stroke="#000" stroke-width="1.9" fill="none">
<rect x="58" y="12.5" width="471" height="254.8"/>
<path d="M58 40.8H64M58 97.3H64M58 154.3H64M58 210.7H64M215.2 267.3V261.6M371.7 267.3V261.6" stroke-width="1.3"/>
</g>
<rect x="415.5" y="101.9" width="86" height="149.3" fill="none" stroke="#222" stroke-width="1.1"/>
<g font-size="19" text-anchor="end">
<text x="43.5" y="47.6">4</text>
<text x="43.5" y="104">3</text>
<text x="43.5" y="161">2</text>
<text x="43.5" y="217.5">1</text>
<text x="43.5" y="275.5">0</text>
</g>
<g font-size="19" text-anchor="middle">
<text x="58" y="303.8">0</text>
<text x="215.2" y="303.8">50</text>
<text x="372.5" y="303.8">100</text>
<text x="529.5" y="303.8">150</text>
<text x="293.5" y="325.2">Time (min)</text>
</g>
<text font-size="18.8" text-anchor="middle" transform="translate(21.2,139.6) rotate(-90)">Exotherm (mcal/sec)</text>
<text font-size="23" y="56"><tspan x="87.2">B</tspan><tspan x="102.5">P</tspan></text><text font-size="23.4" y="56.2" x="116.9" textLength="15.3" lengthAdjust="spacingAndGlyphs">O</text>
<g font-size="18">
<text x="241.7" y="68.5">a</text>
<text x="252.4" y="86.9">b</text>
<text x="282.6" y="59.6">c</text>
<text x="298.7" y="83.2">d</text>
<text x="265.8" y="79.4">e</text>
<text x="289.0" y="94.6">f</text>
</g>
<g font-size="17.5">
<text x="429.8" y="121.7">a : Cont</text>
<text x="429.8" y="145.7">b : ME</text>
<text x="429.8" y="169.8">c : COA</text>
<text x="429.8" y="193.8">d : CAA</text>
<text x="429.8" y="217.9">e : CHA</text>
<text x="429.3" y="241.9">f : FEA</text>
</g>
</svg>
</body></html>
